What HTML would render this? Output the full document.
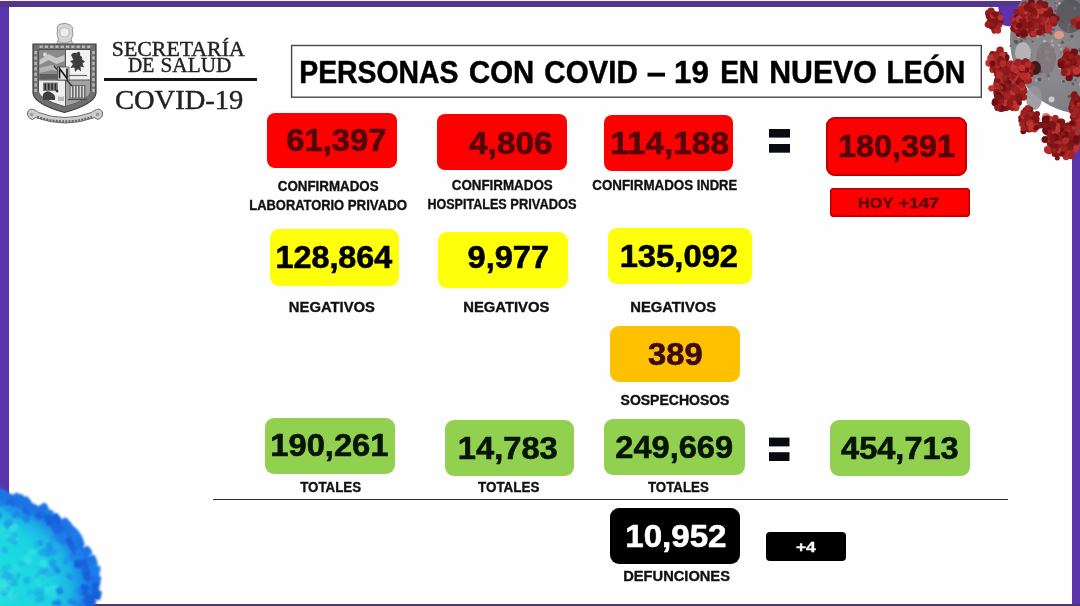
<!DOCTYPE html>
<html><head><meta charset="utf-8"><title>COVID-19 Nuevo León</title>
<style>
html,body{margin:0;padding:0;}
body{width:1080px;height:606px;overflow:hidden;background:#fff;font-family:"Liberation Sans",sans-serif;position:relative;}
#frame{position:absolute;left:0;top:0;width:1080px;height:606px;background:#fffefe;}
.edge{position:absolute;}
#e-top{left:0;top:1px;width:1080px;height:5.5px;background:#51368a;}
#e-left{left:0;top:1px;width:9px;height:605px;background:#5a34aa;}
#e-right{left:1072px;top:1px;width:8px;height:605px;background:#5a34aa;}
#e-bot{left:0;top:603.6px;width:1080px;height:2.4px;background:#493a6c;}
#e-top0{left:0;top:0;width:1080px;height:1.3px;background:#fdeefa;}
.bx{position:absolute;}
#titlebox{position:absolute;left:291px;top:45.5px;width:688px;height:49.5px;border:1.3px solid #4a4a4a;background:#fff;}
#hline{position:absolute;left:213px;top:498.9px;width:795px;height:1.6px;background:#303030;}
#logoline{position:absolute;left:104.3px;top:77.6px;width:152.5px;height:3.6px;background:#151515;}
svg{position:absolute;left:0;top:0;}
</style></head><body>
<div id="frame"></div>
<div class="edge" id="e-left"></div>
<div class="edge" id="e-right"></div>
<div class="edge" id="e-top"></div>
<div class="edge" id="e-top0"></div>
<div class="edge" id="e-bot"></div>
<div class="bx" style="left:267px;top:113px;width:130px;height:55px;background:#fe0000;border-radius:8px;"></div>
<div class="bx" style="left:436.5px;top:114px;width:130.0px;height:56px;background:#fe0000;border-radius:8px;"></div>
<div class="bx" style="left:604px;top:114.5px;width:129px;height:56.5px;background:#fe0000;border-radius:8px;"></div>
<div class="bx" style="left:826px;top:116.5px;width:141px;height:59.5px;background:#fe0000;border-radius:9px;box-shadow:inset 0 0 0 1.7px #b80000;"></div>
<div class="bx" style="left:830px;top:188px;width:140px;height:29px;background:#fe0000;border-radius:4px;box-shadow:inset 0 0 0 1.4px #b40000;"></div>
<div class="bx" style="left:270.3px;top:229px;width:129.0px;height:57px;background:#ffff0a;border-radius:9px;"></div>
<div class="bx" style="left:438px;top:232px;width:130px;height:56px;background:#ffff0a;border-radius:9px;"></div>
<div class="bx" style="left:608px;top:228px;width:144px;height:56px;background:#ffff0a;border-radius:9px;"></div>
<div class="bx" style="left:610px;top:326px;width:130px;height:55.5px;background:#ffc000;border-radius:9px;"></div>
<div class="bx" style="left:265px;top:417.5px;width:130px;height:56.5px;background:#92d050;border-radius:9px;"></div>
<div class="bx" style="left:444.5px;top:420px;width:129.5px;height:56px;background:#92d050;border-radius:9px;"></div>
<div class="bx" style="left:604px;top:419px;width:141px;height:56px;background:#92d050;border-radius:9px;"></div>
<div class="bx" style="left:830px;top:419.5px;width:140px;height:56.5px;background:#92d050;border-radius:9px;"></div>
<div class="bx" style="left:610px;top:507.5px;width:130px;height:56.5px;background:#000;border-radius:9px;"></div>
<div class="bx" style="left:766px;top:532px;width:80px;height:28.5px;background:#000;border-radius:4px;"></div>
<div id="hline"></div>
<div id="logoline"></div>
<svg width="1080" height="606" viewBox="0 0 1080 606">
<g id="logo">
<defs><filter id="lb" x="-5%" y="-5%" width="110%" height="110%"><feGaussianBlur stdDeviation="0.45"/></filter></defs>
<g filter="url(#lb)">
<path d="M57.5 30 Q56 24.5 61 24 Q65 22.5 69 24.5 Q73.5 26 72.5 31 Q74 36 71 39 L73 45 Q74 49 70 50 H59 Q55 49 56.5 45 L58.5 39 Q56 35 57.5 30Z" fill="#d6d6d6" stroke="#8f8f8f" stroke-width="0.9"/>
<path d="M60 29 q4.5 -3 9 0 v6 q-4.5 4 -9 0z" fill="#ededed" stroke="#a0a0a0" stroke-width="0.6"/>
<path d="M58 41 q6.5 4 13 0" stroke="#9a9a9a" stroke-width="0.8" fill="none"/>
<path d="M33 44 H96 V93 Q95 104 64.5 112.5 Q34 104 33 93 Z" fill="#6f6f6f" stroke="#3d3d3d" stroke-width="1.2"/>
<path d="M38.5 49.5 H90.5 V91 Q90 99 64.5 106.5 Q39 99 38.5 91 Z" fill="#dcdcdc" stroke="#444" stroke-width="0.9"/>
<rect x="39" y="50" width="26" height="30" fill="#8a8a8a"/>
<rect x="65.5" y="50" width="24.5" height="30" fill="#f2f2f2"/>
<path d="M39 80 H65.5 V106 Q39.5 99 39 91 Z" fill="#efefef"/>
<path d="M65.5 80 H90 V91 Q89.5 99 65.5 106 Z" fill="#a4a4a4"/>
<path d="M39.5 60 l9 -6 l8 4 l8 -3 v6 l-8 3 l-8 -4 l-9 5z" fill="#c9c9c9"/>
<path d="M39.5 68 l12 -3 l13 4 v4 l-13 -3 l-12 3z" fill="#b4b4b4"/>
<path d="M39.5 74 h25 v5 h-25z" fill="#5f5f5f"/>
<circle cx="45" cy="54.5" r="2" fill="#d9d9d9"/>
<path d="M71 55 q2 -3 5 -2 l3 -1.5 q2 1.5 1 4 q3 1.5 2 4 l3 2 l-2.5 2 l1.5 4 l-3.5 -1 l0.5 5 l-3 -2.5 l-3 3 l-0.5 -4.5 l-4 0.5 l2.5 -4 l-3 -3 l3.5 -1z" fill="#3c3c3c"/>
<path d="M69 75.5 h18" stroke="#666" stroke-width="1.2"/>
<rect x="43" y="82.5" width="15" height="8.5" fill="#7b7b7b"/>
<rect x="44.5" y="83.5" width="1.5" height="6.5" fill="#2c2c2c"/>
<rect x="47.9" y="83.5" width="1.5" height="6.5" fill="#2c2c2c"/>
<rect x="51.3" y="83.5" width="1.5" height="6.5" fill="#2c2c2c"/>
<rect x="54.7" y="83.5" width="1.5" height="6.5" fill="#2c2c2c"/>
<path d="M43 94 q4 -5 9 -1 q4 2 3 7 h-12z" fill="#3f3f3f"/>
<circle cx="57" cy="91" r="1.4" fill="#333"/>
<path d="M58 96 q3 2 6 0 v5 h-6z" fill="#b8b8b8"/>
<rect x="69.5" y="85" width="16" height="13.5" fill="#6c6c6c"/>
<rect x="70.7" y="86" width="1.3" height="11.5" fill="#dedede"/>
<rect x="73.7" y="86" width="1.3" height="11.5" fill="#dedede"/>
<rect x="76.7" y="86" width="1.3" height="11.5" fill="#dedede"/>
<rect x="79.7" y="86" width="1.3" height="11.5" fill="#dedede"/>
<rect x="82.7" y="86" width="1.3" height="11.5" fill="#dedede"/>
<path d="M68 99.5 h19" stroke="#4a4a4a" stroke-width="1.3"/>
<path d="M65.5 50 V106 M39 80 H90" stroke="#555" stroke-width="1" fill="none"/>
<path d="M54 66 L72 86" stroke="#333" stroke-width="1.3"/>
<rect x="57.5" y="67" width="11.5" height="13" fill="#e2e2e2" stroke="#444" stroke-width="0.7"/>
<path d="M59.5 78.5 V68.5 L67 78.5 V68.5" stroke="#1c1c1c" stroke-width="1.7" fill="none"/>
<rect x="39.5" y="45.6" width="3.2" height="2.3" fill="#bdbdbd"/>
<rect x="44.8" y="45.6" width="3.2" height="2.3" fill="#bdbdbd"/>
<rect x="50.1" y="45.6" width="3.2" height="2.3" fill="#bdbdbd"/>
<rect x="55.4" y="45.6" width="3.2" height="2.3" fill="#bdbdbd"/>
<rect x="60.7" y="45.6" width="3.2" height="2.3" fill="#bdbdbd"/>
<rect x="66.0" y="45.6" width="3.2" height="2.3" fill="#bdbdbd"/>
<rect x="71.3" y="45.6" width="3.2" height="2.3" fill="#bdbdbd"/>
<rect x="76.6" y="45.6" width="3.2" height="2.3" fill="#bdbdbd"/>
<rect x="81.9" y="45.6" width="3.2" height="2.3" fill="#bdbdbd"/>
<rect x="87.2" y="45.6" width="3.2" height="2.3" fill="#bdbdbd"/>
<rect x="34.3" y="51.0" width="2.6" height="3.2" fill="#b5b5b5"/>
<rect x="92.2" y="51.0" width="2.6" height="3.2" fill="#b5b5b5"/>
<rect x="34.3" y="56.4" width="2.6" height="3.2" fill="#b5b5b5"/>
<rect x="92.2" y="56.4" width="2.6" height="3.2" fill="#b5b5b5"/>
<rect x="34.3" y="61.8" width="2.6" height="3.2" fill="#b5b5b5"/>
<rect x="92.2" y="61.8" width="2.6" height="3.2" fill="#b5b5b5"/>
<rect x="34.3" y="67.2" width="2.6" height="3.2" fill="#b5b5b5"/>
<rect x="92.2" y="67.2" width="2.6" height="3.2" fill="#b5b5b5"/>
<rect x="34.3" y="72.6" width="2.6" height="3.2" fill="#b5b5b5"/>
<rect x="92.2" y="72.6" width="2.6" height="3.2" fill="#b5b5b5"/>
<rect x="34.3" y="78.0" width="2.6" height="3.2" fill="#b5b5b5"/>
<rect x="92.2" y="78.0" width="2.6" height="3.2" fill="#b5b5b5"/>
<rect x="34.3" y="83.4" width="2.6" height="3.2" fill="#b5b5b5"/>
<rect x="92.2" y="83.4" width="2.6" height="3.2" fill="#b5b5b5"/>
<rect x="34.3" y="88.8" width="2.6" height="3.2" fill="#b5b5b5"/>
<rect x="92.2" y="88.8" width="2.6" height="3.2" fill="#b5b5b5"/>
<path d="M27.5 113 q1 -5 6 -3.5 q3 1 5 3 q26 10 53 0 q2 -2 5 -3 q5 -1.5 6 3.5 q0.5 5 -5 6.5 l-3 -2 q-29 11 -59 0 l-3 2 q-5.5 -1.500 -5 -6.5z" fill="#cdcdcd" stroke="#6a6a6a" stroke-width="1"/>
<path d="M37 117 q27.500 9 55 0" stroke="#666" stroke-width="2.4" fill="none" stroke-dasharray="2 1.2"/>
<circle cx="31.500" cy="114.5" r="1.800" fill="#9a9a9a"/><circle cx="97.5" cy="114.5" r="1.800" fill="#9a9a9a"/>
</g>
</g>
<rect x="291.6" y="45.5" width="689.7" height="51.7" fill="#fff" stroke="#484848" stroke-width="1.4"/>
<rect x="647.5" y="72.7" width="17.5" height="3.9" fill="#000"/>
<g id="eq">
<rect x="769" y="129" width="21" height="8.599999999999994" fill="#0a0a12"/><rect x="769" y="144" width="21" height="8.699999999999989" fill="#0a0a12"/>
<rect x="769" y="437.6" width="20.5" height="8.799999999999955" fill="#0a0a12"/><rect x="769" y="452.2" width="20.5" height="8.800000000000011" fill="#0a0a12"/>
</g>
<g id="txt" style="filter:blur(0.3px)">
<text transform="translate(299.28,82.85) scale(0.9150,1)" font-family="Liberation Sans" font-weight="bold" font-size="31.00" fill="#000" stroke="#000" stroke-width="0.5" stroke-linejoin="round">PERSONAS</text>
<text transform="translate(469.03,82.85) scale(0.9456,1)" font-family="Liberation Sans" font-weight="bold" font-size="31.00" fill="#000" stroke="#000" stroke-width="0.5" stroke-linejoin="round">CON</text>
<text transform="translate(544.33,82.85) scale(0.9517,1)" font-family="Liberation Sans" font-weight="bold" font-size="31.00" fill="#000" stroke="#000" stroke-width="0.5" stroke-linejoin="round">COVID</text>
<text transform="translate(674.10,82.85) scale(1.0070,1)" font-family="Liberation Sans" font-weight="bold" font-size="31.00" fill="#000" stroke="#000" stroke-width="0.5" stroke-linejoin="round">19</text>
<text transform="translate(720.20,82.85) scale(0.9031,1)" font-family="Liberation Sans" font-weight="bold" font-size="31.00" fill="#000" stroke="#000" stroke-width="0.5" stroke-linejoin="round">EN</text>
<text transform="translate(769.16,82.85) scale(0.9771,1)" font-family="Liberation Sans" font-weight="bold" font-size="31.00" fill="#000" stroke="#000" stroke-width="0.5" stroke-linejoin="round">NUEVO</text>
<text transform="translate(886.47,82.85) scale(0.9167,1)" font-family="Liberation Sans" font-weight="bold" font-size="31.00" fill="#000" stroke="#000" stroke-width="0.5" stroke-linejoin="round">LEÓN</text>
<text transform="translate(286.28,151.20) scale(1.0670,1)" font-family="Liberation Sans" font-weight="bold" font-size="30.72" fill="#50060a" stroke="#50060a" stroke-width="0.6" stroke-linejoin="round">61,397</text>
<text transform="translate(469.30,153.70) scale(1.0826,1)" font-family="Liberation Sans" font-weight="bold" font-size="30.72" fill="#50060a" stroke="#50060a" stroke-width="0.6" stroke-linejoin="round">4,806</text>
<text transform="translate(610.21,153.70) scale(1.0866,1)" font-family="Liberation Sans" font-weight="bold" font-size="30.72" fill="#50060a" stroke="#50060a" stroke-width="0.6" stroke-linejoin="round">114,188</text>
<text transform="translate(838.08,156.70) scale(1.0530,1)" font-family="Liberation Sans" font-weight="bold" font-size="30.72" fill="#50060a" stroke="#50060a" stroke-width="0.6" stroke-linejoin="round">180,391</text>
<text transform="translate(857.98,208.20) scale(1.1685,1)" font-family="Liberation Sans" font-weight="bold" font-size="13.94" fill="#5a0a10" stroke="#5a0a10" stroke-width="0.4" stroke-linejoin="round">HOY</text>
<text transform="translate(898.64,208.20) scale(1.2865,1)" font-family="Liberation Sans" font-weight="bold" font-size="13.94" fill="#5a0a10" stroke="#5a0a10" stroke-width="0.4" stroke-linejoin="round">+147</text>
<text transform="translate(277.76,191.32) scale(0.9535,1)" font-family="Liberation Sans" font-weight="bold" font-size="14.01" fill="#111" stroke="#111" stroke-width="0.35" stroke-linejoin="round">CONFIRMADOS</text>
<text transform="translate(249.37,210.22) scale(0.9206,1)" font-family="Liberation Sans" font-weight="bold" font-size="14.01" fill="#111" stroke="#111" stroke-width="0.35" stroke-linejoin="round">LABORATORIO</text>
<text transform="translate(347.75,210.22) scale(0.9468,1)" font-family="Liberation Sans" font-weight="bold" font-size="14.01" fill="#111" stroke="#111" stroke-width="0.35" stroke-linejoin="round">PRIVADO</text>
<text transform="translate(451.76,190.12) scale(0.9545,1)" font-family="Liberation Sans" font-weight="bold" font-size="14.01" fill="#111" stroke="#111" stroke-width="0.35" stroke-linejoin="round">CONFIRMADOS</text>
<text transform="translate(427.39,208.82) scale(0.8971,1)" font-family="Liberation Sans" font-weight="bold" font-size="14.01" fill="#111" stroke="#111" stroke-width="0.35" stroke-linejoin="round">HOSPITALES</text>
<text transform="translate(510.37,208.82) scale(0.9177,1)" font-family="Liberation Sans" font-weight="bold" font-size="14.01" fill="#111" stroke="#111" stroke-width="0.35" stroke-linejoin="round">PRIVADOS</text>
<text transform="translate(592.26,190.12) scale(0.9535,1)" font-family="Liberation Sans" font-weight="bold" font-size="14.01" fill="#111" stroke="#111" stroke-width="0.35" stroke-linejoin="round">CONFIRMADOS</text>
<text transform="translate(696.76,190.12) scale(0.9270,1)" font-family="Liberation Sans" font-weight="bold" font-size="14.01" fill="#111" stroke="#111" stroke-width="0.35" stroke-linejoin="round">INDRE</text>
<text transform="translate(275.48,268.20) scale(1.0520,1)" font-family="Liberation Sans" font-weight="bold" font-size="30.72" fill="#000" stroke="#000" stroke-width="0.6" stroke-linejoin="round">128,864</text>
<text transform="translate(467.58,268.20) scale(1.0593,1)" font-family="Liberation Sans" font-weight="bold" font-size="30.72" fill="#000" stroke="#000" stroke-width="0.6" stroke-linejoin="round">9,977</text>
<text transform="translate(619.65,266.70) scale(1.0668,1)" font-family="Liberation Sans" font-weight="bold" font-size="30.72" fill="#000" stroke="#000" stroke-width="0.6" stroke-linejoin="round">135,092</text>
<text transform="translate(288.85,312.22) scale(1.0564,1)" font-family="Liberation Sans" font-weight="bold" font-size="14.01" fill="#111" stroke="#111" stroke-width="0.35" stroke-linejoin="round">NEGATIVOS</text>
<text transform="translate(463.25,312.22) scale(1.0589,1)" font-family="Liberation Sans" font-weight="bold" font-size="14.01" fill="#111" stroke="#111" stroke-width="0.35" stroke-linejoin="round">NEGATIVOS</text>
<text transform="translate(630.25,312.22) scale(1.0552,1)" font-family="Liberation Sans" font-weight="bold" font-size="14.01" fill="#111" stroke="#111" stroke-width="0.35" stroke-linejoin="round">NEGATIVOS</text>
<text transform="translate(648.09,365.40) scale(1.0658,1)" font-family="Liberation Sans" font-weight="bold" font-size="30.72" fill="#3a0c10" stroke="#3a0c10" stroke-width="0.6" stroke-linejoin="round">389</text>
<text transform="translate(620.56,404.72) scale(0.9996,1)" font-family="Liberation Sans" font-weight="bold" font-size="14.01" fill="#111" stroke="#111" stroke-width="0.35" stroke-linejoin="round">SOSPECHOSOS</text>
<text transform="translate(270.26,456.20) scale(1.0650,1)" font-family="Liberation Sans" font-weight="bold" font-size="30.72" fill="#071507" stroke="#071507" stroke-width="0.6" stroke-linejoin="round">190,261</text>
<text transform="translate(457.76,458.70) scale(1.0649,1)" font-family="Liberation Sans" font-weight="bold" font-size="30.72" fill="#071507" stroke="#071507" stroke-width="0.6" stroke-linejoin="round">14,783</text>
<text transform="translate(615.28,458.20) scale(1.0611,1)" font-family="Liberation Sans" font-weight="bold" font-size="30.72" fill="#071507" stroke="#071507" stroke-width="0.6" stroke-linejoin="round">249,669</text>
<text transform="translate(841.10,459.40) scale(1.0591,1)" font-family="Liberation Sans" font-weight="bold" font-size="30.72" fill="#071507" stroke="#071507" stroke-width="0.6" stroke-linejoin="round">454,713</text>
<text transform="translate(300.18,492.12) scale(0.9520,1)" font-family="Liberation Sans" font-weight="bold" font-size="14.01" fill="#111" stroke="#111" stroke-width="0.35" stroke-linejoin="round">TOTALES</text>
<text transform="translate(477.98,492.12) scale(0.9598,1)" font-family="Liberation Sans" font-weight="bold" font-size="14.01" fill="#111" stroke="#111" stroke-width="0.35" stroke-linejoin="round">TOTALES</text>
<text transform="translate(647.97,492.12) scale(0.9504,1)" font-family="Liberation Sans" font-weight="bold" font-size="14.01" fill="#111" stroke="#111" stroke-width="0.35" stroke-linejoin="round">TOTALES</text>
<text transform="translate(625.23,546.50) scale(1.0781,1)" font-family="Liberation Sans" font-weight="bold" font-size="30.72" fill="#fff" stroke="#fff" stroke-width="0.6" stroke-linejoin="round">10,952</text>
<text transform="translate(623.26,581.03) scale(1.0470,1)" font-family="Liberation Sans" font-weight="bold" font-size="14.01" fill="#111" stroke="#111" stroke-width="0.35" stroke-linejoin="round">DEFUNCIONES</text>
<text transform="translate(795.91,551.75) scale(1.2481,1)" font-family="Liberation Sans" font-weight="bold" font-size="13.94" fill="#fff" stroke="#fff" stroke-width="0.3" stroke-linejoin="round">+4</text>
<text transform="translate(111.83,55.50) scale(1.0696,1)" font-family="Liberation Serif" font-weight="normal" font-size="20.42" fill="#222" stroke="#222" stroke-width="0.4" stroke-linejoin="round">SECRETARÍA</text>
<text transform="translate(128.09,72.30) scale(0.9794,1)" font-family="Liberation Serif" font-weight="normal" font-size="20.11" fill="#222" stroke="#222" stroke-width="0.4" stroke-linejoin="round">DE</text>
<text transform="translate(160.57,72.30) scale(1.0554,1)" font-family="Liberation Serif" font-weight="normal" font-size="20.11" fill="#222" stroke="#222" stroke-width="0.4" stroke-linejoin="round">SALUD</text>
<text transform="translate(114.93,108.78) scale(1.0216,1)" font-family="Liberation Serif" font-weight="normal" font-size="27.96" fill="#222" stroke="#222" stroke-width="0.45" stroke-linejoin="round">COVID-19</text>
</g>
<g id="virus-red">
<defs><radialGradient id="gb" gradientUnits="userSpaceOnUse" cx="1050" cy="60" r="80"><stop offset="0" stop-color="#8f8f93"/><stop offset="0.6" stop-color="#808085"/><stop offset="1" stop-color="#66666c"/></radialGradient><filter id="vb" x="-5%" y="-5%" width="110%" height="110%"><feGaussianBlur stdDeviation="0.7"/></filter></defs>
<g filter="url(#vb)">
<path d="M998 6 L1024 6 L1022 20 Q1012 30 1001 24 Z" fill="#5b32b0"/>
<circle cx="1084" cy="40" r="74" fill="url(#gb)"/>
<circle cx="1071.1" cy="65.7" r="1.0" fill="#9c6f70"/>
<circle cx="1022.8" cy="4.9" r="0.9" fill="#a9a9ad"/>
<circle cx="1066.1" cy="47.9" r="1.5" fill="#5f5f66"/>
<circle cx="1068.0" cy="30.8" r="1.3" fill="#b8b2b4"/>
<circle cx="1055.0" cy="5.4" r="1.7" fill="#b8b2b4"/>
<circle cx="1030.5" cy="17.1" r="1.6" fill="#55555c"/>
<circle cx="1046.7" cy="58.2" r="1.9" fill="#b8b2b4"/>
<circle cx="1060.2" cy="68.2" r="1.7" fill="#a9a9ad"/>
<circle cx="1015.6" cy="29.1" r="1.4" fill="#9c6f70"/>
<circle cx="1068.5" cy="27.3" r="1.4" fill="#b8b2b4"/>
<circle cx="1069.4" cy="41.0" r="1.0" fill="#9c6f70"/>
<circle cx="1022.6" cy="16.5" r="1.2" fill="#6e6e75"/>
<circle cx="1040.2" cy="15.9" r="1.0" fill="#6e6e75"/>
<circle cx="1076.3" cy="101.3" r="1.0" fill="#5f5f66"/>
<circle cx="1074.1" cy="84.9" r="1.3" fill="#9c6f70"/>
<circle cx="1044.1" cy="6.6" r="1.7" fill="#a9a9ad"/>
<circle cx="1017.8" cy="18.7" r="1.4" fill="#6e6e75"/>
<circle cx="1024.9" cy="20.7" r="1.7" fill="#8a7a7e"/>
<circle cx="1058.0" cy="64.3" r="1.1" fill="#5f5f66"/>
<circle cx="1027.5" cy="45.4" r="1.2" fill="#8a7a7e"/>
<circle cx="1051.8" cy="13.4" r="1.7" fill="#a9a9ad"/>
<circle cx="1026.1" cy="34.3" r="1.7" fill="#9c6f70"/>
<circle cx="1017.5" cy="58.6" r="1.6" fill="#6e6e75"/>
<circle cx="1040.5" cy="23.0" r="1.0" fill="#55555c"/>
<circle cx="1071.7" cy="26.2" r="2.0" fill="#5f5f66"/>
<circle cx="1061.2" cy="48.9" r="1.0" fill="#b8b2b4"/>
<circle cx="1062.5" cy="21.3" r="2.0" fill="#8a7a7e"/>
<circle cx="1043.2" cy="9.5" r="1.8" fill="#5f5f66"/>
<circle cx="1062.4" cy="42.2" r="1.7" fill="#5f5f66"/>
<circle cx="1013.9" cy="31.9" r="1.7" fill="#8a7a7e"/>
<circle cx="1020.0" cy="26.7" r="1.6" fill="#8a7a7e"/>
<circle cx="1020.8" cy="42.9" r="1.8" fill="#5f5f66"/>
<circle cx="1051.9" cy="45.7" r="2.0" fill="#b8b2b4"/>
<circle cx="1016.3" cy="63.3" r="2.0" fill="#8a7a7e"/>
<circle cx="1061.1" cy="66.1" r="1.4" fill="#a9a9ad"/>
<circle cx="1036.3" cy="80.2" r="1.4" fill="#a9a9ad"/>
<circle cx="1025.4" cy="81.8" r="1.1" fill="#9c6f70"/>
<circle cx="1041.5" cy="12.7" r="1.1" fill="#9c6f70"/>
<circle cx="1059.9" cy="3.4" r="1.5" fill="#b8b2b4"/>
<circle cx="1080.5" cy="16.5" r="1.9" fill="#9c6f70"/>
<circle cx="1020.8" cy="67.9" r="1.9" fill="#6e6e75"/>
<circle cx="1019.3" cy="39.5" r="1.2" fill="#8a7a7e"/>
<circle cx="1060.6" cy="53.1" r="1.3" fill="#9c6f70"/>
<circle cx="1029.4" cy="54.7" r="1.4" fill="#b8b2b4"/>
<circle cx="1031.5" cy="29.4" r="1.9" fill="#5f5f66"/>
<circle cx="1019.2" cy="47.2" r="1.0" fill="#b8b2b4"/>
<circle cx="1017.6" cy="36.6" r="1.9" fill="#b8b2b4"/>
<circle cx="1017.1" cy="13.7" r="1.4" fill="#6e6e75"/>
<circle cx="1043.9" cy="63.2" r="1.0" fill="#8a7a7e"/>
<circle cx="1010.6" cy="45.9" r="1.1" fill="#6e6e75"/>
<circle cx="1044.5" cy="67.3" r="1.3" fill="#8a7a7e"/>
<circle cx="1037.7" cy="23.6" r="1.3" fill="#5f5f66"/>
<circle cx="1044.0" cy="35.6" r="1.0" fill="#5f5f66"/>
<circle cx="1074.3" cy="109.8" r="1.2" fill="#a9a9ad"/>
<circle cx="1077.2" cy="18.9" r="1.8" fill="#5f5f66"/>
<circle cx="1056.9" cy="18.1" r="1.8" fill="#8a7a7e"/>
<circle cx="1042.7" cy="52.3" r="1.4" fill="#b8b2b4"/>
<circle cx="1051.1" cy="33.5" r="1.5" fill="#55555c"/>
<circle cx="1053.4" cy="29.8" r="1.2" fill="#55555c"/>
<circle cx="1027.3" cy="59.6" r="1.4" fill="#9c6f70"/>
<circle cx="1016.4" cy="42.1" r="2.0" fill="#55555c"/>
<circle cx="1071.8" cy="72.1" r="1.3" fill="#a9a9ad"/>
<circle cx="1053.1" cy="4.5" r="2.0" fill="#8a7a7e"/>
<circle cx="1068.2" cy="47.3" r="1.8" fill="#9c6f70"/>
<circle cx="1076.7" cy="75.7" r="0.9" fill="#8a7a7e"/>
<circle cx="1077.9" cy="52.3" r="1.1" fill="#8a7a7e"/>
<circle cx="1063.5" cy="9.4" r="0.9" fill="#6e6e75"/>
<circle cx="1071.8" cy="48.9" r="1.2" fill="#5f5f66"/>
<circle cx="1069.2" cy="24.4" r="1.8" fill="#b8b2b4"/>
<circle cx="1044.6" cy="41.4" r="1.6" fill="#b8b2b4"/>
<circle cx="1016.4" cy="38.1" r="0.9" fill="#6e6e75"/>
<circle cx="1070.5" cy="23.1" r="1.0" fill="#5f5f66"/>
<circle cx="1068.6" cy="58.4" r="1.4" fill="#6e6e75"/>
<circle cx="1048.1" cy="32.8" r="0.9" fill="#8a7a7e"/>
<circle cx="1029.9" cy="39.0" r="1.5" fill="#9c6f70"/>
<circle cx="1018.1" cy="56.8" r="1.4" fill="#5f5f66"/>
<circle cx="1076.9" cy="100.2" r="1.1" fill="#9c6f70"/>
<circle cx="1021.8" cy="44.1" r="1.4" fill="#8a7a7e"/>
<circle cx="1059.1" cy="45.3" r="1.1" fill="#b8b2b4"/>
<circle cx="1047.6" cy="52.0" r="1.9" fill="#a9a9ad"/>
<circle cx="1080.7" cy="84.3" r="1.8" fill="#b8b2b4"/>
<circle cx="1014.4" cy="36.2" r="1.3" fill="#9c6f70"/>
<circle cx="1014.7" cy="40.9" r="0.9" fill="#55555c"/>
<circle cx="1045.3" cy="52.4" r="1.4" fill="#a9a9ad"/>
<circle cx="1065.7" cy="58.1" r="0.9" fill="#8a7a7e"/>
<circle cx="1072.8" cy="83.7" r="1.3" fill="#55555c"/>
<circle cx="1065.1" cy="18.6" r="1.4" fill="#8a7a7e"/>
<circle cx="1028.0" cy="80.7" r="1.5" fill="#b8b2b4"/>
<circle cx="1080.9" cy="23.8" r="1.4" fill="#9c6f70"/>
<circle cx="1063.3" cy="21.8" r="1.2" fill="#6e6e75"/>
<circle cx="1061.6" cy="73.6" r="1.7" fill="#9c6f70"/>
<circle cx="1057.0" cy="1.4" r="1.2" fill="#a9a9ad"/>
<circle cx="1040.5" cy="23.6" r="1.6" fill="#a9a9ad"/>
<circle cx="1043.2" cy="52.4" r="1.4" fill="#6e6e75"/>
<circle cx="1043.4" cy="64.8" r="1.1" fill="#b8b2b4"/>
<circle cx="1075.9" cy="103.7" r="1.2" fill="#55555c"/>
<circle cx="1025.3" cy="38.7" r="1.8" fill="#6e6e75"/>
<circle cx="1039.5" cy="79.4" r="1.9" fill="#55555c"/>
<circle cx="1028.1" cy="49.5" r="1.0" fill="#5f5f66"/>
<circle cx="1034.1" cy="31.2" r="1.2" fill="#55555c"/>
<circle cx="1023.5" cy="31.4" r="1.7" fill="#6e6e75"/>
<circle cx="1031.0" cy="54.6" r="0.9" fill="#5f5f66"/>
<circle cx="1035.8" cy="31.4" r="1.0" fill="#6e6e75"/>
<circle cx="1044.0" cy="17.1" r="1.8" fill="#a9a9ad"/>
<circle cx="1071.9" cy="36.3" r="1.7" fill="#55555c"/>
<circle cx="1080.1" cy="50.2" r="1.9" fill="#55555c"/>
<circle cx="1071.3" cy="23.2" r="1.6" fill="#a9a9ad"/>
<circle cx="1030.3" cy="69.3" r="0.9" fill="#a9a9ad"/>
<circle cx="1077.4" cy="109.5" r="1.9" fill="#5f5f66"/>
<circle cx="1052.0" cy="40.9" r="1.4" fill="#a9a9ad"/>
<circle cx="1044.7" cy="12.9" r="1.0" fill="#9c6f70"/>
<circle cx="1068.8" cy="68.0" r="1.7" fill="#b8b2b4"/>
<circle cx="1051.3" cy="71.3" r="1.4" fill="#8a7a7e"/>
<circle cx="1074.9" cy="8.5" r="1.9" fill="#b8b2b4"/>
<circle cx="1027.5" cy="75.4" r="1.3" fill="#6e6e75"/>
<circle cx="1048.2" cy="75.5" r="1.9" fill="#6e6e75"/>
<circle cx="1073.9" cy="111.7" r="0.9" fill="#b8b2b4"/>
<circle cx="1020.3" cy="53.9" r="1.2" fill="#6e6e75"/>
<circle cx="1037.0" cy="62.2" r="1.1" fill="#55555c"/>
<circle cx="1050.9" cy="13.6" r="1.4" fill="#8a7a7e"/>
<circle cx="1037.8" cy="36.5" r="1.2" fill="#a9a9ad"/>
<circle cx="1044.0" cy="26.3" r="1.9" fill="#55555c"/>
<circle cx="1021.7" cy="40.6" r="1.1" fill="#55555c"/>
<circle cx="1020.8" cy="24.4" r="1.0" fill="#6e6e75"/>
<circle cx="1042.7" cy="21.6" r="1.2" fill="#9c6f70"/>
<circle cx="1054.4" cy="51.9" r="1.1" fill="#a9a9ad"/>
<circle cx="1062.5" cy="81.3" r="1.5" fill="#a9a9ad"/>
<circle cx="1077.1" cy="64.6" r="1.6" fill="#a9a9ad"/>
<circle cx="1032.6" cy="41.4" r="1.0" fill="#55555c"/>
<circle cx="1040.6" cy="73.6" r="1.5" fill="#9c6f70"/>
<circle cx="1057.3" cy="1.7" r="1.4" fill="#8a7a7e"/>
<circle cx="1075.5" cy="80.1" r="1.2" fill="#5f5f66"/>
<circle cx="1043.6" cy="22.0" r="0.9" fill="#55555c"/>
<circle cx="1055.5" cy="3.5" r="1.1" fill="#55555c"/>
<circle cx="1024.5" cy="70.9" r="1.5" fill="#55555c"/>
<circle cx="1039.4" cy="73.8" r="1.7" fill="#8a7a7e"/>
<circle cx="1038.0" cy="3.0" r="1.9" fill="#5f5f66"/>
<circle cx="1041.0" cy="71.4" r="1.3" fill="#55555c"/>
<circle cx="1063.2" cy="81.3" r="1.5" fill="#55555c"/>
<circle cx="1055.4" cy="10.7" r="1.2" fill="#55555c"/>
<circle cx="1048.7" cy="78.9" r="0.9" fill="#a9a9ad"/>
<circle cx="1046.0" cy="4.8" r="1.4" fill="#a9a9ad"/>
<circle cx="1068.5" cy="51.2" r="1.4" fill="#8a7a7e"/>
<circle cx="1069.1" cy="39.0" r="1.0" fill="#9c6f70"/>
<circle cx="1080.1" cy="19.4" r="1.5" fill="#6e6e75"/>
<circle cx="1073.5" cy="106.0" r="1.2" fill="#a9a9ad"/>
<circle cx="1035.3" cy="8.3" r="1.3" fill="#a9a9ad"/>
<circle cx="1054.9" cy="6.5" r="1.4" fill="#6e6e75"/>
<circle cx="1023.1" cy="31.7" r="1.2" fill="#5f5f66"/>
<circle cx="1017.2" cy="24.8" r="1.8" fill="#9c6f70"/>
<circle cx="1077.2" cy="113.3" r="1.1" fill="#b8b2b4"/>
<circle cx="1073.7" cy="58.4" r="1.1" fill="#a9a9ad"/>
<circle cx="1032.3" cy="9.0" r="1.7" fill="#8a7a7e"/>
<circle cx="1069.1" cy="96.6" r="1.5" fill="#55555c"/>
<circle cx="1069.2" cy="59.1" r="1.5" fill="#8a7a7e"/>
<circle cx="1049.3" cy="61.1" r="1.1" fill="#a9a9ad"/>
<ellipse cx="1070" cy="16" rx="14" ry="17" fill="#505056" opacity="0.75"/>
<ellipse cx="1046" cy="58" rx="10" ry="16" fill="#7d7074" opacity="0.7"/>
<ellipse cx="1023" cy="53" rx="8" ry="11" fill="#b9b9be" opacity="0.9"/>
<ellipse cx="1034" cy="98" rx="8" ry="12" fill="#96969b" opacity="0.9"/>
<circle cx="1051.5" cy="99.5" r="3" fill="#c9c9d2"/>
<ellipse cx="1059" cy="35" rx="5" ry="4" fill="#e09a88"/>
<ellipse cx="1046" cy="116" rx="4" ry="3" fill="#d97f6a"/>
<ellipse cx="1077" cy="129" rx="4" ry="5" fill="#55555c"/>
<ellipse cx="1035" cy="68" rx="6" ry="7" fill="#3b1a1c"/>
<ellipse cx="994" cy="21" rx="7.0" ry="9.7" fill="#8a1a1d"/>
<circle cx="990.1" cy="15.7" r="2.4" fill="#b52a2c"/>
<circle cx="992.6" cy="13.9" r="2.3" fill="#7a1417"/>
<circle cx="998.9" cy="14.0" r="2.8" fill="#99201f"/>
<circle cx="995.9" cy="20.5" r="3.5" fill="#6d1114"/>
<circle cx="989.0" cy="16.3" r="3.2" fill="#861818"/>
<circle cx="994.1" cy="31.5" r="2.3" fill="#8e1b1e"/>
<circle cx="990.8" cy="24.0" r="2.3" fill="#a32226"/>
<circle cx="999.9" cy="21.6" r="3.7" fill="#7a1417"/>
<circle cx="989.1" cy="25.1" r="3.2" fill="#bd3633"/>
<circle cx="995.3" cy="16.8" r="2.7" fill="#99201f"/>
<circle cx="988.4" cy="13.2" r="3.4" fill="#861818"/>
<circle cx="993.9" cy="20.1" r="3.6" fill="#861818"/>
<circle cx="999.7" cy="25.3" r="2.5" fill="#a32226"/>
<circle cx="993.5" cy="29.8" r="2.4" fill="#99201f"/>
<circle cx="993.0" cy="15.5" r="3.1" fill="#bd3633"/>
<circle cx="991.0" cy="11.3" r="3.8" fill="#99201f"/>
<circle cx="989.1" cy="12.6" r="2.5" fill="#8e1b1e"/>
<circle cx="997.7" cy="30.2" r="3.5" fill="#b52a2c"/>
<circle cx="1000.5" cy="17.8" r="2.7" fill="#bd3633"/>
<circle cx="992.1" cy="25.7" r="3.7" fill="#861818"/>
<circle cx="988.3" cy="22.4" r="2.2" fill="#8e1b1e"/>
<circle cx="987.7" cy="24.6" r="3.1" fill="#99201f"/>
<circle cx="995.2" cy="14.3" r="3.1" fill="#7a1417"/>
<circle cx="994.8" cy="22.4" r="2.4" fill="#7a1417"/>
<circle cx="992.3" cy="24.4" r="2.2" fill="#8e1b1e"/>
<circle cx="998.1" cy="27.7" r="2.3" fill="#a32226"/>
<ellipse cx="1020" cy="28" rx="7.9" ry="7.0" fill="#8a1a1d"/>
<circle cx="1019.8" cy="26.0" r="3.1" fill="#6d1114"/>
<circle cx="1022.8" cy="35.4" r="3.1" fill="#a32226"/>
<circle cx="1025.7" cy="23.2" r="3.3" fill="#bd3633"/>
<circle cx="1023.2" cy="30.3" r="2.4" fill="#8e1b1e"/>
<circle cx="1028.2" cy="25.6" r="3.4" fill="#a32226"/>
<circle cx="1023.2" cy="22.3" r="2.7" fill="#a32226"/>
<circle cx="1025.4" cy="33.3" r="3.2" fill="#99201f"/>
<circle cx="1017.5" cy="32.7" r="2.2" fill="#99201f"/>
<circle cx="1021.8" cy="27.3" r="3.4" fill="#6d1114"/>
<circle cx="1020.8" cy="21.8" r="3.0" fill="#99201f"/>
<circle cx="1018.8" cy="27.0" r="2.9" fill="#bd3633"/>
<circle cx="1017.2" cy="27.7" r="3.0" fill="#8e1b1e"/>
<circle cx="1015.9" cy="27.1" r="3.6" fill="#a32226"/>
<circle cx="1015.7" cy="26.1" r="2.9" fill="#b52a2c"/>
<circle cx="1018.1" cy="34.7" r="2.3" fill="#6d1114"/>
<circle cx="1013.7" cy="28.3" r="3.5" fill="#7a1417"/>
<circle cx="1026.8" cy="26.7" r="3.7" fill="#99201f"/>
<circle cx="1016.8" cy="26.5" r="3.5" fill="#b52a2c"/>
<ellipse cx="1035" cy="19" rx="19.4" ry="15.0" fill="#8a1a1d"/>
<circle cx="1027.7" cy="19.1" r="3.2" fill="#a32226"/>
<circle cx="1013.1" cy="20.0" r="3.1" fill="#a32226"/>
<circle cx="1025.9" cy="11.7" r="2.8" fill="#bd3633"/>
<circle cx="1049.8" cy="9.8" r="2.9" fill="#8e1b1e"/>
<circle cx="1026.6" cy="25.7" r="2.9" fill="#7a1417"/>
<circle cx="1020.0" cy="30.0" r="2.6" fill="#861818"/>
<circle cx="1046.8" cy="28.4" r="3.3" fill="#8e1b1e"/>
<circle cx="1027.7" cy="26.9" r="2.4" fill="#861818"/>
<circle cx="1025.1" cy="6.5" r="2.5" fill="#861818"/>
<circle cx="1030.8" cy="11.0" r="2.6" fill="#6d1114"/>
<circle cx="1014.9" cy="22.8" r="2.6" fill="#b52a2c"/>
<circle cx="1032.9" cy="33.7" r="3.5" fill="#7a1417"/>
<circle cx="1031.4" cy="2.5" r="3.4" fill="#6d1114"/>
<circle cx="1041.7" cy="27.3" r="2.5" fill="#a32226"/>
<circle cx="1044.1" cy="30.9" r="2.5" fill="#7a1417"/>
<circle cx="1054.5" cy="17.5" r="3.4" fill="#bd3633"/>
<circle cx="1033.9" cy="24.6" r="3.7" fill="#99201f"/>
<circle cx="1038.7" cy="29.2" r="2.3" fill="#bd3633"/>
<circle cx="1043.9" cy="10.1" r="2.6" fill="#99201f"/>
<circle cx="1026.9" cy="20.5" r="3.2" fill="#bd3633"/>
<circle cx="1045.8" cy="19.3" r="3.6" fill="#bd3633"/>
<circle cx="1045.2" cy="7.6" r="3.2" fill="#b52a2c"/>
<circle cx="1027.5" cy="6.7" r="2.9" fill="#6d1114"/>
<circle cx="1033.9" cy="33.2" r="3.6" fill="#b52a2c"/>
<circle cx="1038.8" cy="4.9" r="3.2" fill="#99201f"/>
<circle cx="1043.9" cy="9.4" r="2.2" fill="#bd3633"/>
<circle cx="1017.2" cy="17.4" r="3.6" fill="#6d1114"/>
<circle cx="1037.4" cy="8.6" r="3.0" fill="#a32226"/>
<circle cx="1050.8" cy="22.0" r="2.5" fill="#b52a2c"/>
<circle cx="1028.1" cy="18.3" r="3.1" fill="#b52a2c"/>
<circle cx="1031.8" cy="7.1" r="3.2" fill="#6d1114"/>
<circle cx="1021.0" cy="17.5" r="3.7" fill="#b52a2c"/>
<circle cx="1044.4" cy="18.6" r="3.0" fill="#a32226"/>
<circle cx="1032.7" cy="5.8" r="3.2" fill="#99201f"/>
<circle cx="1032.9" cy="29.6" r="2.2" fill="#bd3633"/>
<circle cx="1050.0" cy="12.2" r="3.3" fill="#99201f"/>
<circle cx="1044.4" cy="24.9" r="2.8" fill="#b52a2c"/>
<circle cx="1056.6" cy="18.4" r="2.9" fill="#7a1417"/>
<circle cx="1048.3" cy="29.9" r="3.5" fill="#b52a2c"/>
<circle cx="1018.8" cy="21.5" r="2.6" fill="#7a1417"/>
<circle cx="1024.4" cy="29.8" r="3.5" fill="#bd3633"/>
<circle cx="1023.3" cy="20.8" r="3.1" fill="#7a1417"/>
<circle cx="1037.8" cy="7.6" r="3.5" fill="#b52a2c"/>
<circle cx="1033.5" cy="29.4" r="2.6" fill="#bd3633"/>
<circle cx="1028.4" cy="8.4" r="3.5" fill="#99201f"/>
<circle cx="1023.8" cy="29.7" r="2.7" fill="#861818"/>
<circle cx="1019.2" cy="24.9" r="3.3" fill="#6d1114"/>
<circle cx="1041.9" cy="26.7" r="2.8" fill="#a32226"/>
<circle cx="1044.8" cy="4.7" r="3.5" fill="#7a1417"/>
<circle cx="1022.3" cy="17.1" r="3.1" fill="#8e1b1e"/>
<circle cx="1036.5" cy="23.4" r="2.7" fill="#a32226"/>
<circle cx="1017.1" cy="11.6" r="2.5" fill="#861818"/>
<circle cx="1030.1" cy="24.5" r="3.6" fill="#7a1417"/>
<circle cx="1020.9" cy="10.0" r="3.8" fill="#a32226"/>
<circle cx="1024.8" cy="5.0" r="3.5" fill="#99201f"/>
<circle cx="1040.9" cy="32.4" r="3.0" fill="#861818"/>
<circle cx="1031.4" cy="13.9" r="2.4" fill="#bd3633"/>
<circle cx="1035.8" cy="25.3" r="3.0" fill="#8e1b1e"/>
<circle cx="1014.2" cy="20.6" r="3.3" fill="#b52a2c"/>
<circle cx="1018.8" cy="19.1" r="3.6" fill="#8e1b1e"/>
<circle cx="1041.7" cy="27.1" r="3.3" fill="#861818"/>
<circle cx="1024.8" cy="5.6" r="2.8" fill="#bd3633"/>
<circle cx="1053.1" cy="19.0" r="2.5" fill="#6d1114"/>
<circle cx="1032.6" cy="16.8" r="3.2" fill="#6d1114"/>
<circle cx="1037.4" cy="14.1" r="3.0" fill="#7a1417"/>
<circle cx="1053.2" cy="22.0" r="3.2" fill="#6d1114"/>
<circle cx="1049.8" cy="26.7" r="2.7" fill="#b52a2c"/>
<circle cx="1032.3" cy="28.7" r="2.6" fill="#8e1b1e"/>
<circle cx="1040.5" cy="10.8" r="3.5" fill="#bd3633"/>
<circle cx="1024.0" cy="33.6" r="3.6" fill="#6d1114"/>
<circle cx="1052.6" cy="16.8" r="3.5" fill="#6d1114"/>
<circle cx="1041.6" cy="32.4" r="2.4" fill="#a32226"/>
<circle cx="1035.9" cy="15.7" r="3.4" fill="#bd3633"/>
<circle cx="1030.3" cy="17.9" r="2.7" fill="#8e1b1e"/>
<circle cx="1054.1" cy="23.4" r="3.0" fill="#8e1b1e"/>
<circle cx="1040.1" cy="3.3" r="3.2" fill="#7a1417"/>
<circle cx="1022.2" cy="8.9" r="3.2" fill="#a32226"/>
<circle cx="1039.2" cy="32.5" r="2.9" fill="#7a1417"/>
<circle cx="1042.5" cy="23.3" r="2.3" fill="#a32226"/>
<circle cx="1050.3" cy="11.9" r="2.8" fill="#7a1417"/>
<circle cx="1038.8" cy="6.6" r="2.6" fill="#99201f"/>
<circle cx="1036.6" cy="21.9" r="2.2" fill="#8e1b1e"/>
<circle cx="1019.1" cy="19.2" r="3.5" fill="#bd3633"/>
<circle cx="1016.2" cy="11.6" r="2.9" fill="#8e1b1e"/>
<circle cx="1027.8" cy="7.1" r="3.8" fill="#7a1417"/>
<circle cx="1021.0" cy="20.7" r="2.4" fill="#861818"/>
<circle cx="1037.0" cy="25.4" r="2.2" fill="#8e1b1e"/>
<circle cx="1053.0" cy="19.8" r="3.8" fill="#a32226"/>
<circle cx="1036.5" cy="24.8" r="3.0" fill="#99201f"/>
<circle cx="1032.9" cy="10.8" r="3.4" fill="#7a1417"/>
<circle cx="1046.8" cy="14.2" r="3.4" fill="#7a1417"/>
<circle cx="1034.2" cy="14.1" r="3.2" fill="#861818"/>
<circle cx="1014.4" cy="23.0" r="2.6" fill="#8e1b1e"/>
<circle cx="1034.5" cy="17.2" r="2.2" fill="#a32226"/>
<circle cx="1025.6" cy="25.1" r="3.2" fill="#861818"/>
<ellipse cx="999" cy="62" rx="9.7" ry="11.4" fill="#8a1a1d"/>
<circle cx="994.2" cy="57.4" r="3.7" fill="#861818"/>
<circle cx="994.6" cy="63.0" r="3.7" fill="#a32226"/>
<circle cx="993.2" cy="69.9" r="3.2" fill="#bd3633"/>
<circle cx="989.4" cy="63.7" r="2.9" fill="#99201f"/>
<circle cx="1000.8" cy="52.4" r="2.7" fill="#8e1b1e"/>
<circle cx="992.6" cy="54.7" r="3.5" fill="#6d1114"/>
<circle cx="1005.4" cy="53.9" r="2.2" fill="#7a1417"/>
<circle cx="994.1" cy="57.7" r="2.9" fill="#b52a2c"/>
<circle cx="992.5" cy="69.5" r="3.2" fill="#b52a2c"/>
<circle cx="1001.1" cy="55.5" r="2.2" fill="#99201f"/>
<circle cx="998.5" cy="67.1" r="3.7" fill="#8e1b1e"/>
<circle cx="998.0" cy="66.7" r="3.6" fill="#7a1417"/>
<circle cx="997.5" cy="73.9" r="3.5" fill="#861818"/>
<circle cx="997.2" cy="65.1" r="3.1" fill="#bd3633"/>
<circle cx="1001.9" cy="72.7" r="3.7" fill="#b52a2c"/>
<circle cx="998.0" cy="64.9" r="2.8" fill="#b52a2c"/>
<circle cx="1006.5" cy="57.5" r="2.2" fill="#bd3633"/>
<circle cx="995.8" cy="63.0" r="3.5" fill="#a32226"/>
<circle cx="999.9" cy="71.8" r="3.6" fill="#6d1114"/>
<circle cx="990.6" cy="63.5" r="2.5" fill="#b52a2c"/>
<circle cx="1007.3" cy="68.4" r="2.7" fill="#6d1114"/>
<circle cx="992.5" cy="67.4" r="2.4" fill="#8e1b1e"/>
<circle cx="1005.8" cy="57.7" r="3.6" fill="#6d1114"/>
<circle cx="992.4" cy="53.5" r="2.4" fill="#8e1b1e"/>
<circle cx="994.5" cy="69.8" r="2.2" fill="#8e1b1e"/>
<circle cx="1001.9" cy="73.6" r="3.1" fill="#b52a2c"/>
<circle cx="998.3" cy="73.4" r="2.9" fill="#861818"/>
<circle cx="1000.1" cy="50.3" r="3.7" fill="#99201f"/>
<circle cx="1002.6" cy="55.7" r="3.8" fill="#bd3633"/>
<circle cx="1001.1" cy="63.5" r="3.1" fill="#861818"/>
<circle cx="988.9" cy="63.0" r="3.6" fill="#bd3633"/>
<circle cx="1007.2" cy="56.9" r="2.3" fill="#6d1114"/>
<circle cx="990.9" cy="57.9" r="3.7" fill="#bd3633"/>
<circle cx="1003.2" cy="72.9" r="2.8" fill="#b52a2c"/>
<circle cx="1004.2" cy="61.7" r="2.3" fill="#99201f"/>
<circle cx="1001.5" cy="60.9" r="3.1" fill="#8e1b1e"/>
<circle cx="1000.2" cy="59.6" r="3.5" fill="#861818"/>
<circle cx="1002.9" cy="63.7" r="3.4" fill="#b52a2c"/>
<circle cx="996.3" cy="55.6" r="3.1" fill="#a32226"/>
<circle cx="992.4" cy="63.4" r="2.8" fill="#6d1114"/>
<ellipse cx="1008" cy="88" rx="15.0" ry="22.0" fill="#8a1a1d"/>
<circle cx="1001.1" cy="89.2" r="2.6" fill="#7a1417"/>
<circle cx="1021.8" cy="75.9" r="2.9" fill="#b52a2c"/>
<circle cx="1010.0" cy="78.6" r="3.5" fill="#a32226"/>
<circle cx="1022.5" cy="78.6" r="3.6" fill="#7a1417"/>
<circle cx="1010.9" cy="63.9" r="3.7" fill="#bd3633"/>
<circle cx="1015.4" cy="71.4" r="2.9" fill="#6d1114"/>
<circle cx="1004.4" cy="98.9" r="2.4" fill="#6d1114"/>
<circle cx="1013.0" cy="97.2" r="2.3" fill="#861818"/>
<circle cx="1001.9" cy="84.9" r="3.6" fill="#99201f"/>
<circle cx="1000.6" cy="94.1" r="2.2" fill="#99201f"/>
<circle cx="1004.5" cy="96.8" r="3.0" fill="#6d1114"/>
<circle cx="996.6" cy="92.7" r="2.4" fill="#8e1b1e"/>
<circle cx="997.7" cy="71.7" r="3.7" fill="#861818"/>
<circle cx="1011.0" cy="80.6" r="3.4" fill="#6d1114"/>
<circle cx="1000.1" cy="93.3" r="2.6" fill="#b52a2c"/>
<circle cx="1015.5" cy="95.7" r="3.6" fill="#8e1b1e"/>
<circle cx="1016.3" cy="66.5" r="2.4" fill="#8e1b1e"/>
<circle cx="996.7" cy="94.3" r="3.0" fill="#861818"/>
<circle cx="1023.5" cy="88.3" r="3.0" fill="#7a1417"/>
<circle cx="1005.8" cy="91.9" r="2.9" fill="#99201f"/>
<circle cx="1002.3" cy="84.0" r="2.5" fill="#b52a2c"/>
<circle cx="1006.2" cy="77.2" r="2.3" fill="#a32226"/>
<circle cx="1019.2" cy="74.3" r="3.4" fill="#7a1417"/>
<circle cx="1011.6" cy="106.8" r="3.3" fill="#b52a2c"/>
<circle cx="1001.4" cy="82.4" r="2.3" fill="#bd3633"/>
<circle cx="1016.8" cy="67.9" r="3.0" fill="#6d1114"/>
<circle cx="1000.0" cy="107.7" r="3.6" fill="#861818"/>
<circle cx="1017.2" cy="96.6" r="3.4" fill="#7a1417"/>
<circle cx="1014.1" cy="78.7" r="2.5" fill="#6d1114"/>
<circle cx="1021.9" cy="92.8" r="3.1" fill="#8e1b1e"/>
<circle cx="997.8" cy="107.0" r="3.7" fill="#a32226"/>
<circle cx="1018.4" cy="102.5" r="3.5" fill="#6d1114"/>
<circle cx="1010.9" cy="65.1" r="3.1" fill="#8e1b1e"/>
<circle cx="1006.6" cy="95.9" r="3.4" fill="#861818"/>
<circle cx="995.7" cy="86.5" r="3.1" fill="#8e1b1e"/>
<circle cx="1008.2" cy="95.4" r="3.2" fill="#7a1417"/>
<circle cx="1014.8" cy="95.5" r="3.5" fill="#8e1b1e"/>
<circle cx="1024.2" cy="90.9" r="3.4" fill="#99201f"/>
<circle cx="1021.1" cy="90.1" r="3.1" fill="#b52a2c"/>
<circle cx="1006.4" cy="80.3" r="3.6" fill="#7a1417"/>
<circle cx="1013.7" cy="90.5" r="3.0" fill="#99201f"/>
<circle cx="1012.6" cy="93.6" r="3.6" fill="#b52a2c"/>
<circle cx="1012.2" cy="80.7" r="3.1" fill="#bd3633"/>
<circle cx="1015.9" cy="107.5" r="3.7" fill="#bd3633"/>
<circle cx="1003.5" cy="69.9" r="3.2" fill="#8e1b1e"/>
<circle cx="994.9" cy="102.8" r="3.4" fill="#6d1114"/>
<circle cx="995.4" cy="101.4" r="3.3" fill="#6d1114"/>
<circle cx="1014.2" cy="66.9" r="2.3" fill="#7a1417"/>
<circle cx="1023.9" cy="81.7" r="2.6" fill="#bd3633"/>
<circle cx="1007.1" cy="85.7" r="2.4" fill="#7a1417"/>
<circle cx="1018.1" cy="94.9" r="3.0" fill="#8e1b1e"/>
<circle cx="1009.7" cy="104.0" r="2.8" fill="#861818"/>
<circle cx="997.8" cy="71.3" r="3.6" fill="#8e1b1e"/>
<circle cx="1021.3" cy="92.3" r="2.6" fill="#99201f"/>
<circle cx="997.4" cy="71.8" r="2.3" fill="#a32226"/>
<circle cx="1008.0" cy="106.0" r="2.9" fill="#8e1b1e"/>
<circle cx="1005.8" cy="101.4" r="3.2" fill="#a32226"/>
<circle cx="1023.5" cy="97.1" r="3.7" fill="#99201f"/>
<circle cx="1019.3" cy="97.7" r="3.7" fill="#861818"/>
<circle cx="1012.4" cy="94.4" r="2.7" fill="#bd3633"/>
<circle cx="1000.1" cy="81.9" r="3.4" fill="#99201f"/>
<circle cx="1015.1" cy="71.5" r="3.1" fill="#bd3633"/>
<circle cx="1012.3" cy="108.1" r="2.9" fill="#99201f"/>
<circle cx="999.2" cy="76.9" r="2.7" fill="#b52a2c"/>
<circle cx="1004.3" cy="97.4" r="3.1" fill="#bd3633"/>
<circle cx="1018.1" cy="89.1" r="3.6" fill="#b52a2c"/>
<circle cx="1003.7" cy="100.8" r="2.6" fill="#b52a2c"/>
<circle cx="1003.8" cy="109.1" r="2.5" fill="#a32226"/>
<circle cx="1000.1" cy="78.9" r="3.3" fill="#bd3633"/>
<circle cx="1013.1" cy="75.2" r="3.4" fill="#b52a2c"/>
<circle cx="1022.0" cy="86.6" r="3.7" fill="#bd3633"/>
<circle cx="1002.8" cy="100.7" r="3.3" fill="#99201f"/>
<circle cx="1013.3" cy="71.8" r="3.4" fill="#861818"/>
<circle cx="1006.4" cy="107.7" r="3.2" fill="#7a1417"/>
<circle cx="1003.3" cy="92.2" r="2.9" fill="#a32226"/>
<circle cx="991.3" cy="88.3" r="3.1" fill="#bd3633"/>
<circle cx="1013.3" cy="77.3" r="3.2" fill="#a32226"/>
<circle cx="999.7" cy="99.5" r="2.9" fill="#6d1114"/>
<circle cx="1005.2" cy="103.1" r="3.1" fill="#bd3633"/>
<circle cx="1007.2" cy="86.4" r="3.4" fill="#861818"/>
<circle cx="1001.2" cy="97.3" r="3.1" fill="#7a1417"/>
<circle cx="998.4" cy="94.0" r="2.6" fill="#6d1114"/>
<circle cx="1001.0" cy="108.5" r="3.5" fill="#6d1114"/>
<circle cx="1011.1" cy="103.7" r="3.7" fill="#8e1b1e"/>
<circle cx="1016.5" cy="90.0" r="3.6" fill="#99201f"/>
<circle cx="1021.1" cy="77.4" r="3.1" fill="#bd3633"/>
<circle cx="995.8" cy="86.0" r="3.3" fill="#bd3633"/>
<circle cx="1004.7" cy="89.1" r="3.3" fill="#861818"/>
<circle cx="1021.2" cy="81.4" r="3.0" fill="#a32226"/>
<circle cx="997.9" cy="97.5" r="3.2" fill="#7a1417"/>
<circle cx="1020.2" cy="71.2" r="3.0" fill="#861818"/>
<circle cx="1009.8" cy="64.4" r="3.1" fill="#a32226"/>
<circle cx="1012.6" cy="100.4" r="3.8" fill="#99201f"/>
<circle cx="1002.4" cy="87.3" r="3.6" fill="#6d1114"/>
<circle cx="1015.3" cy="65.5" r="3.6" fill="#bd3633"/>
<circle cx="999.6" cy="74.7" r="3.5" fill="#b52a2c"/>
<circle cx="1000.6" cy="87.7" r="2.5" fill="#a32226"/>
<circle cx="997.8" cy="107.9" r="3.2" fill="#8e1b1e"/>
<circle cx="1007.4" cy="85.6" r="2.2" fill="#8e1b1e"/>
<circle cx="1017.3" cy="80.1" r="2.4" fill="#8e1b1e"/>
<circle cx="1004.3" cy="78.3" r="3.0" fill="#99201f"/>
<circle cx="1019.1" cy="70.9" r="3.0" fill="#7a1417"/>
<circle cx="998.3" cy="80.8" r="2.4" fill="#7a1417"/>
<circle cx="995.9" cy="85.9" r="2.2" fill="#a32226"/>
<circle cx="1013.9" cy="103.9" r="3.5" fill="#bd3633"/>
<circle cx="1009.5" cy="82.2" r="2.2" fill="#6d1114"/>
<circle cx="1013.1" cy="97.6" r="2.6" fill="#8e1b1e"/>
<circle cx="1007.4" cy="95.8" r="3.6" fill="#a32226"/>
<circle cx="1001.4" cy="101.6" r="2.8" fill="#8e1b1e"/>
<circle cx="1010.0" cy="103.5" r="3.4" fill="#8e1b1e"/>
<ellipse cx="1022" cy="72" rx="9.7" ry="12.3" fill="#8a1a1d"/>
<circle cx="1014.0" cy="76.1" r="2.6" fill="#8e1b1e"/>
<circle cx="1026.5" cy="81.0" r="2.5" fill="#8e1b1e"/>
<circle cx="1030.0" cy="64.5" r="2.7" fill="#99201f"/>
<circle cx="1029.5" cy="69.6" r="3.7" fill="#b52a2c"/>
<circle cx="1018.0" cy="61.7" r="3.1" fill="#bd3633"/>
<circle cx="1018.3" cy="84.2" r="3.0" fill="#b52a2c"/>
<circle cx="1025.9" cy="75.0" r="2.8" fill="#8e1b1e"/>
<circle cx="1027.8" cy="70.7" r="3.1" fill="#a32226"/>
<circle cx="1016.8" cy="83.2" r="2.7" fill="#a32226"/>
<circle cx="1028.9" cy="69.8" r="3.7" fill="#b52a2c"/>
<circle cx="1016.3" cy="78.2" r="2.8" fill="#bd3633"/>
<circle cx="1030.8" cy="74.5" r="2.7" fill="#7a1417"/>
<circle cx="1022.2" cy="77.0" r="2.5" fill="#7a1417"/>
<circle cx="1014.9" cy="68.8" r="3.5" fill="#b52a2c"/>
<circle cx="1025.5" cy="79.0" r="3.4" fill="#bd3633"/>
<circle cx="1016.2" cy="64.3" r="2.7" fill="#861818"/>
<circle cx="1016.8" cy="71.8" r="2.9" fill="#7a1417"/>
<circle cx="1032.3" cy="67.0" r="3.2" fill="#861818"/>
<circle cx="1016.3" cy="67.6" r="2.6" fill="#b52a2c"/>
<circle cx="1028.7" cy="80.6" r="3.3" fill="#a32226"/>
<circle cx="1016.5" cy="70.1" r="3.4" fill="#bd3633"/>
<circle cx="1031.2" cy="74.1" r="2.4" fill="#8e1b1e"/>
<circle cx="1019.5" cy="74.6" r="2.5" fill="#b52a2c"/>
<circle cx="1018.1" cy="82.3" r="2.4" fill="#6d1114"/>
<circle cx="1025.3" cy="60.5" r="2.5" fill="#99201f"/>
<circle cx="1027.0" cy="75.9" r="3.5" fill="#bd3633"/>
<circle cx="1020.6" cy="80.7" r="3.7" fill="#7a1417"/>
<circle cx="1026.3" cy="69.7" r="2.8" fill="#6d1114"/>
<circle cx="1023.4" cy="70.7" r="3.3" fill="#861818"/>
<circle cx="1022.1" cy="84.9" r="2.8" fill="#a32226"/>
<circle cx="1023.6" cy="76.3" r="3.7" fill="#b52a2c"/>
<circle cx="1021.5" cy="69.3" r="2.3" fill="#7a1417"/>
<circle cx="1013.3" cy="77.1" r="2.4" fill="#8e1b1e"/>
<circle cx="1013.7" cy="68.4" r="3.7" fill="#b52a2c"/>
<circle cx="1013.6" cy="66.9" r="2.6" fill="#bd3633"/>
<circle cx="1018.0" cy="62.7" r="3.7" fill="#a32226"/>
<circle cx="1026.9" cy="61.4" r="2.7" fill="#8e1b1e"/>
<circle cx="1028.0" cy="64.4" r="3.3" fill="#b52a2c"/>
<circle cx="1021.1" cy="69.6" r="2.7" fill="#6d1114"/>
<circle cx="1022.0" cy="67.9" r="3.3" fill="#bd3633"/>
<ellipse cx="1029" cy="121" rx="8.8" ry="11.4" fill="#8a1a1d"/>
<circle cx="1036.8" cy="120.9" r="2.6" fill="#a32226"/>
<circle cx="1023.3" cy="131.3" r="2.9" fill="#6d1114"/>
<circle cx="1025.9" cy="110.6" r="3.5" fill="#861818"/>
<circle cx="1020.8" cy="120.4" r="2.5" fill="#7a1417"/>
<circle cx="1024.7" cy="121.4" r="3.7" fill="#99201f"/>
<circle cx="1030.8" cy="125.7" r="3.4" fill="#b52a2c"/>
<circle cx="1024.2" cy="119.2" r="2.3" fill="#6d1114"/>
<circle cx="1027.3" cy="124.2" r="3.2" fill="#7a1417"/>
<circle cx="1034.5" cy="129.3" r="3.3" fill="#b52a2c"/>
<circle cx="1028.8" cy="120.0" r="3.3" fill="#7a1417"/>
<circle cx="1034.5" cy="118.0" r="2.7" fill="#7a1417"/>
<circle cx="1024.8" cy="117.7" r="3.2" fill="#a32226"/>
<circle cx="1020.7" cy="117.6" r="2.5" fill="#7a1417"/>
<circle cx="1023.5" cy="115.9" r="3.4" fill="#b52a2c"/>
<circle cx="1033.0" cy="125.6" r="2.8" fill="#b52a2c"/>
<circle cx="1038.1" cy="124.3" r="2.7" fill="#a32226"/>
<circle cx="1027.0" cy="112.7" r="2.4" fill="#6d1114"/>
<circle cx="1021.9" cy="124.3" r="2.7" fill="#a32226"/>
<circle cx="1035.6" cy="123.5" r="3.8" fill="#861818"/>
<circle cx="1036.3" cy="126.5" r="3.8" fill="#99201f"/>
<circle cx="1034.4" cy="126.7" r="2.9" fill="#b52a2c"/>
<circle cx="1030.2" cy="113.8" r="2.8" fill="#a32226"/>
<circle cx="1024.1" cy="112.9" r="3.7" fill="#99201f"/>
<circle cx="1027.4" cy="118.0" r="3.4" fill="#8e1b1e"/>
<circle cx="1030.4" cy="109.2" r="2.7" fill="#7a1417"/>
<circle cx="1036.0" cy="118.8" r="3.6" fill="#7a1417"/>
<circle cx="1035.8" cy="127.6" r="2.7" fill="#6d1114"/>
<circle cx="1023.2" cy="128.2" r="2.8" fill="#b52a2c"/>
<circle cx="1024.0" cy="128.1" r="2.8" fill="#99201f"/>
<circle cx="1029.1" cy="123.6" r="3.1" fill="#bd3633"/>
<circle cx="1037.0" cy="113.9" r="3.0" fill="#861818"/>
<circle cx="1027.8" cy="108.1" r="3.2" fill="#a32226"/>
<circle cx="1032.0" cy="125.8" r="2.4" fill="#bd3633"/>
<circle cx="1030.7" cy="122.4" r="2.9" fill="#b52a2c"/>
<circle cx="1030.2" cy="128.8" r="2.3" fill="#bd3633"/>
<circle cx="1030.7" cy="123.7" r="2.3" fill="#bd3633"/>
<ellipse cx="1063" cy="140" rx="16.7" ry="16.7" fill="#8a1a1d"/>
<circle cx="1066.7" cy="137.0" r="2.2" fill="#7a1417"/>
<circle cx="1069.3" cy="135.6" r="2.7" fill="#861818"/>
<circle cx="1068.2" cy="125.3" r="3.1" fill="#861818"/>
<circle cx="1072.3" cy="145.5" r="2.9" fill="#7a1417"/>
<circle cx="1081.4" cy="137.0" r="3.2" fill="#8e1b1e"/>
<circle cx="1061.1" cy="129.2" r="3.3" fill="#bd3633"/>
<circle cx="1075.6" cy="136.2" r="3.2" fill="#99201f"/>
<circle cx="1072.2" cy="129.6" r="3.2" fill="#b52a2c"/>
<circle cx="1065.8" cy="156.1" r="3.3" fill="#7a1417"/>
<circle cx="1056.8" cy="130.2" r="3.1" fill="#bd3633"/>
<circle cx="1057.1" cy="147.2" r="2.9" fill="#99201f"/>
<circle cx="1069.1" cy="145.3" r="3.6" fill="#a32226"/>
<circle cx="1066.1" cy="157.1" r="3.2" fill="#b52a2c"/>
<circle cx="1053.6" cy="138.2" r="3.0" fill="#861818"/>
<circle cx="1065.1" cy="154.2" r="2.4" fill="#a32226"/>
<circle cx="1072.3" cy="127.4" r="3.5" fill="#7a1417"/>
<circle cx="1072.2" cy="129.3" r="3.3" fill="#a32226"/>
<circle cx="1050.0" cy="126.7" r="3.0" fill="#861818"/>
<circle cx="1068.7" cy="129.6" r="2.5" fill="#b52a2c"/>
<circle cx="1047.6" cy="133.5" r="2.4" fill="#8e1b1e"/>
<circle cx="1059.6" cy="142.3" r="2.3" fill="#b52a2c"/>
<circle cx="1056.6" cy="141.7" r="2.4" fill="#a32226"/>
<circle cx="1050.2" cy="127.8" r="3.1" fill="#6d1114"/>
<circle cx="1071.1" cy="154.3" r="2.7" fill="#8e1b1e"/>
<circle cx="1066.0" cy="134.1" r="2.8" fill="#6d1114"/>
<circle cx="1062.3" cy="136.1" r="3.2" fill="#a32226"/>
<circle cx="1056.3" cy="148.6" r="3.2" fill="#8e1b1e"/>
<circle cx="1076.9" cy="132.9" r="2.6" fill="#b52a2c"/>
<circle cx="1062.0" cy="137.4" r="3.8" fill="#861818"/>
<circle cx="1065.1" cy="141.8" r="2.4" fill="#99201f"/>
<circle cx="1068.6" cy="153.0" r="2.7" fill="#bd3633"/>
<circle cx="1070.5" cy="127.5" r="2.6" fill="#99201f"/>
<circle cx="1065.1" cy="139.3" r="2.7" fill="#7a1417"/>
<circle cx="1049.8" cy="141.1" r="2.3" fill="#8e1b1e"/>
<circle cx="1076.4" cy="146.8" r="3.2" fill="#bd3633"/>
<circle cx="1073.3" cy="124.4" r="3.3" fill="#861818"/>
<circle cx="1049.1" cy="151.0" r="3.2" fill="#a32226"/>
<circle cx="1054.1" cy="150.6" r="2.7" fill="#7a1417"/>
<circle cx="1059.6" cy="137.9" r="2.5" fill="#6d1114"/>
<circle cx="1061.4" cy="129.2" r="2.9" fill="#6d1114"/>
<circle cx="1058.7" cy="150.1" r="3.0" fill="#b52a2c"/>
<circle cx="1075.8" cy="141.7" r="3.8" fill="#8e1b1e"/>
<circle cx="1052.0" cy="128.1" r="2.4" fill="#bd3633"/>
<circle cx="1061.0" cy="153.3" r="2.6" fill="#7a1417"/>
<circle cx="1066.5" cy="139.8" r="3.1" fill="#a32226"/>
<circle cx="1074.6" cy="128.0" r="3.2" fill="#a32226"/>
<circle cx="1056.4" cy="147.6" r="3.5" fill="#7a1417"/>
<circle cx="1058.6" cy="130.5" r="3.4" fill="#6d1114"/>
<circle cx="1047.9" cy="139.2" r="2.8" fill="#bd3633"/>
<circle cx="1054.9" cy="153.8" r="3.3" fill="#861818"/>
<circle cx="1045.0" cy="139.6" r="3.5" fill="#6d1114"/>
<circle cx="1068.0" cy="147.0" r="3.6" fill="#861818"/>
<circle cx="1053.1" cy="146.7" r="3.4" fill="#7a1417"/>
<circle cx="1056.8" cy="136.3" r="3.4" fill="#99201f"/>
<circle cx="1060.9" cy="126.0" r="3.7" fill="#6d1114"/>
<circle cx="1070.4" cy="143.7" r="3.7" fill="#7a1417"/>
<circle cx="1059.2" cy="150.6" r="2.9" fill="#bd3633"/>
<circle cx="1059.7" cy="122.1" r="3.5" fill="#6d1114"/>
<circle cx="1071.0" cy="134.1" r="2.6" fill="#8e1b1e"/>
<circle cx="1063.8" cy="125.0" r="2.6" fill="#8e1b1e"/>
<circle cx="1065.4" cy="151.8" r="2.5" fill="#99201f"/>
<circle cx="1073.0" cy="128.5" r="2.5" fill="#8e1b1e"/>
<circle cx="1077.3" cy="136.6" r="2.3" fill="#6d1114"/>
<circle cx="1062.7" cy="138.7" r="2.6" fill="#8e1b1e"/>
<circle cx="1051.4" cy="125.9" r="2.5" fill="#6d1114"/>
<circle cx="1065.1" cy="137.7" r="3.0" fill="#6d1114"/>
<circle cx="1071.1" cy="155.7" r="3.5" fill="#a32226"/>
<circle cx="1055.3" cy="132.2" r="3.0" fill="#bd3633"/>
<circle cx="1062.4" cy="152.9" r="2.2" fill="#6d1114"/>
<circle cx="1045.6" cy="132.6" r="2.3" fill="#6d1114"/>
<circle cx="1064.4" cy="142.2" r="2.5" fill="#a32226"/>
<circle cx="1055.8" cy="148.9" r="2.8" fill="#7a1417"/>
<circle cx="1054.9" cy="127.7" r="2.7" fill="#99201f"/>
<circle cx="1068.1" cy="127.9" r="2.3" fill="#99201f"/>
<circle cx="1054.8" cy="128.5" r="3.3" fill="#99201f"/>
<circle cx="1054.1" cy="150.6" r="2.6" fill="#99201f"/>
<circle cx="1076.1" cy="140.7" r="3.2" fill="#6d1114"/>
<circle cx="1071.8" cy="152.2" r="2.8" fill="#a32226"/>
<circle cx="1076.9" cy="134.2" r="2.4" fill="#b52a2c"/>
<circle cx="1055.4" cy="137.2" r="3.7" fill="#6d1114"/>
<circle cx="1061.6" cy="122.0" r="3.6" fill="#7a1417"/>
<circle cx="1051.9" cy="138.0" r="3.3" fill="#861818"/>
<circle cx="1076.3" cy="138.5" r="3.2" fill="#6d1114"/>
<circle cx="1072.6" cy="133.1" r="2.5" fill="#8e1b1e"/>
<circle cx="1075.7" cy="150.2" r="2.3" fill="#bd3633"/>
<circle cx="1057.8" cy="130.0" r="2.6" fill="#bd3633"/>
<circle cx="1047.6" cy="149.8" r="3.7" fill="#b52a2c"/>
<circle cx="1065.7" cy="140.5" r="3.3" fill="#b52a2c"/>
<circle cx="1064.0" cy="148.5" r="3.4" fill="#99201f"/>
<circle cx="1057.3" cy="158.1" r="2.5" fill="#7a1417"/>
<ellipse cx="1050" cy="124" rx="7.9" ry="7.0" fill="#8a1a1d"/>
<circle cx="1041.4" cy="125.1" r="3.4" fill="#7a1417"/>
<circle cx="1052.1" cy="120.2" r="2.7" fill="#861818"/>
<circle cx="1053.1" cy="121.1" r="2.7" fill="#861818"/>
<circle cx="1050.5" cy="125.8" r="3.5" fill="#6d1114"/>
<circle cx="1057.6" cy="126.0" r="2.9" fill="#bd3633"/>
<circle cx="1055.9" cy="118.0" r="2.7" fill="#8e1b1e"/>
<circle cx="1051.2" cy="121.1" r="3.7" fill="#7a1417"/>
<circle cx="1053.0" cy="122.4" r="3.4" fill="#a32226"/>
<circle cx="1050.1" cy="118.5" r="2.8" fill="#bd3633"/>
<circle cx="1045.4" cy="130.5" r="3.3" fill="#6d1114"/>
<circle cx="1051.6" cy="123.8" r="2.6" fill="#8e1b1e"/>
<circle cx="1056.2" cy="125.3" r="2.6" fill="#bd3633"/>
<circle cx="1047.6" cy="117.5" r="2.3" fill="#6d1114"/>
<circle cx="1052.7" cy="125.0" r="3.7" fill="#7a1417"/>
<circle cx="1049.5" cy="123.9" r="2.6" fill="#7a1417"/>
<circle cx="1045.5" cy="119.6" r="3.8" fill="#6d1114"/>
<circle cx="1054.7" cy="117.4" r="2.3" fill="#b52a2c"/>
<circle cx="1055.4" cy="117.7" r="2.6" fill="#a32226"/>
<ellipse cx="1070" cy="64" rx="9.7" ry="13.2" fill="#8a1a1d"/>
<circle cx="1069.3" cy="70.2" r="2.6" fill="#a32226"/>
<circle cx="1074.8" cy="62.6" r="2.3" fill="#6d1114"/>
<circle cx="1069.3" cy="72.5" r="2.3" fill="#861818"/>
<circle cx="1062.2" cy="61.0" r="3.3" fill="#99201f"/>
<circle cx="1065.0" cy="69.0" r="2.9" fill="#7a1417"/>
<circle cx="1064.8" cy="70.1" r="2.9" fill="#7a1417"/>
<circle cx="1077.0" cy="56.9" r="2.6" fill="#99201f"/>
<circle cx="1066.7" cy="52.0" r="3.8" fill="#b52a2c"/>
<circle cx="1068.3" cy="60.2" r="3.2" fill="#8e1b1e"/>
<circle cx="1072.1" cy="62.2" r="3.3" fill="#6d1114"/>
<circle cx="1067.1" cy="54.8" r="3.3" fill="#861818"/>
<circle cx="1070.3" cy="63.9" r="3.4" fill="#861818"/>
<circle cx="1061.6" cy="63.3" r="3.8" fill="#b52a2c"/>
<circle cx="1074.4" cy="52.1" r="3.6" fill="#6d1114"/>
<circle cx="1068.4" cy="54.9" r="3.0" fill="#6d1114"/>
<circle cx="1078.8" cy="69.9" r="3.3" fill="#99201f"/>
<circle cx="1069.2" cy="77.7" r="3.6" fill="#6d1114"/>
<circle cx="1062.5" cy="62.6" r="2.6" fill="#7a1417"/>
<circle cx="1078.8" cy="69.2" r="2.8" fill="#b52a2c"/>
<circle cx="1060.2" cy="61.7" r="2.6" fill="#7a1417"/>
<circle cx="1075.1" cy="74.0" r="2.5" fill="#8e1b1e"/>
<circle cx="1067.1" cy="72.1" r="3.6" fill="#bd3633"/>
<circle cx="1073.1" cy="68.1" r="2.6" fill="#a32226"/>
<circle cx="1064.1" cy="73.2" r="3.0" fill="#99201f"/>
<circle cx="1066.9" cy="65.3" r="2.8" fill="#861818"/>
<circle cx="1067.5" cy="54.5" r="3.0" fill="#7a1417"/>
<circle cx="1070.2" cy="58.2" r="3.3" fill="#6d1114"/>
<circle cx="1061.1" cy="64.9" r="3.2" fill="#6d1114"/>
<circle cx="1071.8" cy="56.8" r="3.1" fill="#8e1b1e"/>
<circle cx="1067.6" cy="62.5" r="2.5" fill="#99201f"/>
<circle cx="1074.8" cy="60.2" r="2.6" fill="#861818"/>
<circle cx="1077.4" cy="70.5" r="3.6" fill="#b52a2c"/>
<circle cx="1077.5" cy="74.6" r="2.7" fill="#6d1114"/>
<circle cx="1078.2" cy="57.9" r="2.8" fill="#8e1b1e"/>
<circle cx="1068.6" cy="56.1" r="2.9" fill="#99201f"/>
<circle cx="1065.9" cy="71.5" r="3.1" fill="#b52a2c"/>
<circle cx="1080.1" cy="62.1" r="3.1" fill="#a32226"/>
<circle cx="1066.8" cy="56.6" r="2.3" fill="#861818"/>
<circle cx="1064.2" cy="71.5" r="3.0" fill="#8e1b1e"/>
<circle cx="1076.4" cy="71.1" r="3.7" fill="#bd3633"/>
<ellipse cx="1076" cy="104" rx="6.2" ry="9.7" fill="#8a1a1d"/>
<circle cx="1071.9" cy="107.9" r="3.6" fill="#861818"/>
<circle cx="1073.9" cy="106.4" r="3.4" fill="#8e1b1e"/>
<circle cx="1073.1" cy="95.7" r="2.8" fill="#8e1b1e"/>
<circle cx="1079.4" cy="101.3" r="2.7" fill="#bd3633"/>
<circle cx="1076.3" cy="100.2" r="2.6" fill="#a32226"/>
<circle cx="1075.2" cy="103.4" r="3.0" fill="#b52a2c"/>
<circle cx="1074.5" cy="103.0" r="3.3" fill="#6d1114"/>
<circle cx="1074.4" cy="104.3" r="3.3" fill="#bd3633"/>
<circle cx="1077.5" cy="100.6" r="2.9" fill="#8e1b1e"/>
<circle cx="1077.9" cy="101.0" r="2.7" fill="#8e1b1e"/>
<circle cx="1078.0" cy="111.4" r="3.0" fill="#a32226"/>
<circle cx="1074.6" cy="109.1" r="3.6" fill="#bd3633"/>
<circle cx="1071.5" cy="103.5" r="2.3" fill="#99201f"/>
<circle cx="1076.0" cy="110.8" r="2.9" fill="#99201f"/>
<circle cx="1075.1" cy="107.8" r="2.5" fill="#6d1114"/>
<circle cx="1081.2" cy="100.3" r="3.3" fill="#7a1417"/>
<circle cx="1071.8" cy="111.4" r="2.5" fill="#8e1b1e"/>
<circle cx="1075.9" cy="103.0" r="2.3" fill="#6d1114"/>
<circle cx="1079.2" cy="105.1" r="2.9" fill="#b52a2c"/>
<circle cx="1074.5" cy="94.4" r="3.1" fill="#861818"/>
<ellipse cx="1077" cy="22" rx="3.5" ry="4.4" fill="#8a1a1d"/>
<circle cx="1074.2" cy="24.4" r="2.5" fill="#b52a2c"/>
<circle cx="1079.5" cy="23.2" r="3.2" fill="#8e1b1e"/>
<circle cx="1079.4" cy="25.6" r="3.5" fill="#861818"/>
<circle cx="1078.6" cy="26.3" r="3.1" fill="#7a1417"/>
<circle cx="1073.7" cy="22.0" r="3.3" fill="#99201f"/>
<circle cx="1077.9" cy="18.5" r="2.5" fill="#b52a2c"/>
<ellipse cx="1077" cy="118" rx="6.2" ry="10.6" fill="#8a1a1d"/>
<circle cx="1072.2" cy="117.2" r="2.5" fill="#a32226"/>
<circle cx="1081.3" cy="115.7" r="3.3" fill="#99201f"/>
<circle cx="1075.7" cy="110.3" r="2.9" fill="#8e1b1e"/>
<circle cx="1079.3" cy="116.0" r="2.5" fill="#861818"/>
<circle cx="1076.1" cy="123.6" r="3.1" fill="#6d1114"/>
<circle cx="1075.4" cy="108.2" r="2.7" fill="#99201f"/>
<circle cx="1074.1" cy="127.8" r="2.4" fill="#b52a2c"/>
<circle cx="1076.0" cy="119.4" r="2.8" fill="#99201f"/>
<circle cx="1077.9" cy="126.7" r="2.3" fill="#861818"/>
<circle cx="1078.8" cy="122.1" r="2.7" fill="#bd3633"/>
<circle cx="1081.8" cy="125.2" r="2.4" fill="#b52a2c"/>
<circle cx="1073.3" cy="116.9" r="2.8" fill="#861818"/>
<circle cx="1078.1" cy="124.0" r="2.7" fill="#a32226"/>
<circle cx="1078.4" cy="125.8" r="3.4" fill="#b52a2c"/>
<circle cx="1073.6" cy="114.9" r="3.1" fill="#a32226"/>
<circle cx="1081.0" cy="116.6" r="3.7" fill="#99201f"/>
<circle cx="1080.8" cy="120.1" r="2.9" fill="#b52a2c"/>
<circle cx="1075.0" cy="124.4" r="2.4" fill="#99201f"/>
<circle cx="1079.2" cy="108.5" r="2.9" fill="#a32226"/>
<circle cx="1078.3" cy="109.0" r="2.9" fill="#8e1b1e"/>
<circle cx="1072.0" cy="123.2" r="2.9" fill="#6d1114"/>
<circle cx="1076.6" cy="110.8" r="3.3" fill="#a32226"/>
</g>
</g>
<g id="virus-blue">
<defs><radialGradient id="bb" gradientUnits="userSpaceOnUse" cx="-62" cy="588" r="106" gradientTransform="translate(-62 588) scale(1.491 1) translate(62 -588)"><stop offset="0.3" stop-color="#22e2e0"/><stop offset="0.72" stop-color="#1bd2e2"/><stop offset="0.84" stop-color="#1ab4e6"/><stop offset="0.92" stop-color="#1b88e8"/><stop offset="1" stop-color="#1a68e0"/></radialGradient><filter id="bbl" x="-5%" y="-5%" width="110%" height="110%"><feGaussianBlur stdDeviation="0.8"/></filter></defs>
<g filter="url(#bbl)">
<ellipse cx="-62" cy="588" rx="158" ry="106" fill="url(#bb)"/>
<rect x="-7.6" y="487.7" width="12.4" height="7.4" rx="2.5" fill="#1c74e6" transform="rotate(11 -1.5 491.4)"/>
<rect x="-16.8" y="493.4" width="8.8" height="6.8" rx="2.5" fill="#1a66e0" transform="rotate(11 -12.4 496.9)"/>
<rect x="0.5" y="490.3" width="8.2" height="6.8" rx="2.5" fill="#1c74e6" transform="rotate(14 4.6 493.6)"/>
<rect x="-0.4" y="495.5" width="12.5" height="8.2" rx="2.5" fill="#1c74e6" transform="rotate(47 5.8 499.6)"/>
<rect x="11.7" y="495.0" width="10.4" height="8.4" rx="2.5" fill="#1c74e6" transform="rotate(40 16.9 499.2)"/>
<rect x="6.2" y="499.9" width="8.8" height="6.8" rx="2.5" fill="#1a66e0" transform="rotate(26 10.6 503.3)"/>
<rect x="13.4" y="493.7" width="10.8" height="6.4" rx="2.5" fill="#1c74e6" transform="rotate(17 18.8 496.9)"/>
<rect x="14.9" y="502.2" width="11.6" height="6.2" rx="2.5" fill="#1c74e6" transform="rotate(12 20.7 505.3)"/>
<rect x="21.8" y="497.5" width="9.1" height="8.3" rx="2.5" fill="#1c74e6" transform="rotate(50 26.4 501.6)"/>
<rect x="22.5" y="505.9" width="10.3" height="8.8" rx="2.5" fill="#1a66e0" transform="rotate(29 27.6 510.3)"/>
<rect x="39.7" y="503.3" width="8.2" height="8.4" rx="2.5" fill="#1c74e6" transform="rotate(53 43.7 507.5)"/>
<rect x="25.9" y="506.5" width="9.7" height="6.4" rx="2.5" fill="#1c74e6" transform="rotate(60 30.8 509.7)"/>
<rect x="45.4" y="509.6" width="8.3" height="6.0" rx="2.5" fill="#1d7eea" transform="rotate(22 49.6 512.6)"/>
<rect x="34.8" y="511.6" width="8.3" height="7.8" rx="2.5" fill="#1a66e0" transform="rotate(28 39.0 515.5)"/>
<rect x="51.6" y="515.6" width="11.9" height="6.3" rx="2.5" fill="#1860da" transform="rotate(53 57.6 518.7)"/>
<rect x="42.9" y="516.3" width="11.9" height="7.5" rx="2.5" fill="#1860da" transform="rotate(64 48.8 520.0)"/>
<rect x="60.3" y="519.5" width="11.7" height="8.5" rx="2.5" fill="#1c74e6" transform="rotate(50 66.1 523.7)"/>
<rect x="51.3" y="523.4" width="12.4" height="6.9" rx="2.5" fill="#1a66e0" transform="rotate(31 57.5 526.9)"/>
<rect x="64.7" y="524.9" width="11.8" height="8.5" rx="2.5" fill="#1c74e6" transform="rotate(41 70.6 529.2)"/>
<rect x="51.9" y="525.4" width="10.5" height="8.7" rx="2.5" fill="#1a66e0" transform="rotate(49 57.1 529.8)"/>
<rect x="70.3" y="530.6" width="11.4" height="8.8" rx="2.5" fill="#1d7eea" transform="rotate(56 76.0 535.1)"/>
<rect x="56.5" y="535.4" width="12.2" height="7.0" rx="2.5" fill="#1d7eea" transform="rotate(74 62.6 538.9)"/>
<rect x="70.8" y="537.3" width="8.1" height="6.3" rx="2.5" fill="#1d7eea" transform="rotate(59 74.8 540.4)"/>
<rect x="64.9" y="538.6" width="9.7" height="6.6" rx="2.5" fill="#1860da" transform="rotate(57 69.7 541.9)"/>
<rect x="74.6" y="537.8" width="9.7" height="9.0" rx="2.5" fill="#1c74e6" transform="rotate(74 79.4 542.3)"/>
<rect x="67.7" y="546.5" width="12.0" height="6.4" rx="2.5" fill="#1a66e0" transform="rotate(61 73.7 549.7)"/>
<rect x="83.0" y="547.6" width="9.7" height="6.5" rx="2.5" fill="#1c74e6" transform="rotate(56 87.8 550.8)"/>
<rect x="74.1" y="551.0" width="12.5" height="7.2" rx="2.5" fill="#1d7eea" transform="rotate(62 80.3 554.6)"/>
<rect x="86.8" y="556.5" width="11.0" height="8.6" rx="2.5" fill="#1c74e6" transform="rotate(70 92.4 560.8)"/>
<rect x="73.1" y="560.6" width="8.5" height="6.7" rx="2.5" fill="#1860da" transform="rotate(87 77.3 564.0)"/>
<rect x="88.1" y="565.3" width="11.7" height="8.3" rx="2.5" fill="#1d7eea" transform="rotate(62 93.9 569.5)"/>
<rect x="78.6" y="560.9" width="10.1" height="7.5" rx="2.5" fill="#1860da" transform="rotate(74 83.6 564.7)"/>
<rect x="90.4" y="567.0" width="11.3" height="7.9" rx="2.5" fill="#1d7eea" transform="rotate(103 96.1 570.9)"/>
<rect x="80.0" y="565.8" width="11.3" height="7.5" rx="2.5" fill="#1a66e0" transform="rotate(57 85.6 569.6)"/>
<rect x="91.6" y="577.0" width="10.8" height="7.3" rx="2.5" fill="#1c74e6" transform="rotate(98 97.0 580.7)"/>
<rect x="81.8" y="572.8" width="9.6" height="6.4" rx="2.5" fill="#1860da" transform="rotate(65 86.6 576.0)"/>
<rect x="91.6" y="583.2" width="8.2" height="7.2" rx="2.5" fill="#1860da" transform="rotate(96 95.8 586.8)"/>
<rect x="79.6" y="584.6" width="8.1" height="7.6" rx="2.5" fill="#1d7eea" transform="rotate(98 83.7 588.5)"/>
<rect x="91.9" y="590.2" width="9.9" height="8.9" rx="2.5" fill="#1860da" transform="rotate(103 96.8 594.7)"/>
<rect x="78.5" y="585.9" width="10.9" height="8.5" rx="2.5" fill="#1860da" transform="rotate(111 83.9 590.1)"/>
<rect x="87.7" y="599.0" width="8.3" height="6.9" rx="2.5" fill="#1c74e6" transform="rotate(107 91.8 602.4)"/>
<rect x="81.4" y="596.1" width="12.9" height="8.3" rx="2.5" fill="#1860da" transform="rotate(120 87.8 600.3)"/>
<rect x="84.8" y="601.8" width="12.7" height="6.6" rx="2.5" fill="#1860da" transform="rotate(121 91.1 605.1)"/>
<rect x="77.3" y="603.6" width="9.8" height="7.0" rx="2.5" fill="#1d7eea" transform="rotate(89 82.2 607.1)"/>
<rect x="11.4" y="511.4" width="8.5" height="6.2" rx="2.5" fill="#1a7ee6" opacity="0.8" transform="rotate(-41 15.6 514.5)"/>
<rect x="0.7" y="534.0" width="9.8" height="5.8" rx="2.5" fill="#30e0e0" opacity="0.6" transform="rotate(-16 5.6 536.9)"/>
<rect x="33.8" y="590.8" width="10.3" height="5.4" rx="2.5" fill="#1ca4e8" opacity="0.6" transform="rotate(-6 39.0 593.5)"/>
<rect x="13.9" y="572.2" width="7.3" height="5.7" rx="2.5" fill="#1ca4e8" opacity="0.6" transform="rotate(-52 17.6 575.1)"/>
<rect x="41.5" y="548.7" width="10.1" height="7.5" rx="2.5" fill="#1e96ea" opacity="0.8" transform="rotate(25 46.5 552.4)"/>
<rect x="2.0" y="589.2" width="10.8" height="6.9" rx="2.5" fill="#3ee8e4" opacity="0.6" transform="rotate(23 7.4 592.6)"/>
<rect x="22.9" y="577.1" width="8.0" height="6.5" rx="2.5" fill="#1ca4e8" opacity="0.6" transform="rotate(-20 26.9 580.4)"/>
<rect x="50.9" y="585.1" width="8.7" height="6.6" rx="2.5" fill="#3ee8e4" opacity="0.6" transform="rotate(20 55.2 588.3)"/>
<rect x="0.1" y="586.7" width="9.4" height="7.8" rx="2.5" fill="#1ca4e8" opacity="0.6" transform="rotate(-52 4.8 590.6)"/>
<rect x="3.0" y="520.0" width="9.9" height="7.5" rx="2.5" fill="#1e96ea" opacity="0.8" transform="rotate(-42 8.0 523.7)"/>
<rect x="50.9" y="563.0" width="6.6" height="5.8" rx="2.5" fill="#1e96ea" opacity="0.8" transform="rotate(-56 54.3 565.9)"/>
<rect x="67.3" y="599.5" width="10.4" height="5.4" rx="2.5" fill="#1a7ee6" opacity="0.8" transform="rotate(24 72.5 602.2)"/>
<rect x="38.9" y="567.8" width="9.6" height="7.3" rx="2.5" fill="#1ca4e8" opacity="0.6" transform="rotate(13 43.7 571.4)"/>
<rect x="28.5" y="549.4" width="7.5" height="6.1" rx="2.5" fill="#3ee8e4" opacity="0.6" transform="rotate(8 32.3 552.5)"/>
<rect x="-4.7" y="587.0" width="9.5" height="5.2" rx="2.5" fill="#1fb0e8" opacity="0.6" transform="rotate(41 0.1 589.6)"/>
<rect x="-2.7" y="569.1" width="8.5" height="7.9" rx="2.5" fill="#1ca4e8" opacity="0.6" transform="rotate(11 1.6 573.0)"/>
<rect x="20.0" y="555.4" width="7.1" height="6.9" rx="2.5" fill="#30e0e0" opacity="0.6" transform="rotate(-19 23.5 558.8)"/>
<rect x="8.8" y="535.4" width="8.8" height="7.5" rx="2.5" fill="#3ee8e4" opacity="0.6" transform="rotate(-26 13.2 539.1)"/>
<rect x="38.5" y="596.7" width="7.1" height="5.5" rx="2.5" fill="#1fb0e8" opacity="0.6" transform="rotate(37 42.1 599.4)"/>
<rect x="11.9" y="592.0" width="8.9" height="6.2" rx="2.5" fill="#1fb0e8" opacity="0.6" transform="rotate(1 16.4 595.1)"/>
<rect x="2.1" y="564.6" width="10.0" height="7.9" rx="2.5" fill="#1fb0e8" opacity="0.6" transform="rotate(-20 7.2 568.6)"/>
<rect x="-5.9" y="592.2" width="8.9" height="6.3" rx="2.5" fill="#30e0e0" opacity="0.6" transform="rotate(56 -1.5 595.4)"/>
<rect x="43.1" y="587.2" width="7.7" height="5.6" rx="2.5" fill="#3ee8e4" opacity="0.6" transform="rotate(-12 46.9 589.9)"/>
<rect x="31.5" y="572.1" width="9.9" height="7.4" rx="2.5" fill="#30e0e0" opacity="0.6" transform="rotate(29 36.5 575.8)"/>
<rect x="5.3" y="577.8" width="9.7" height="7.8" rx="2.5" fill="#1ca4e8" opacity="0.6" transform="rotate(50 10.2 581.7)"/>
<rect x="49.5" y="569.0" width="7.8" height="6.3" rx="2.5" fill="#1fb0e8" opacity="0.6" transform="rotate(40 53.4 572.1)"/>
<rect x="48.5" y="559.6" width="7.3" height="6.1" rx="2.5" fill="#1e96ea" opacity="0.8" transform="rotate(-40 52.2 562.6)"/>
<rect x="68.4" y="553.3" width="6.5" height="7.2" rx="2.5" fill="#1a7ee6" opacity="0.8" transform="rotate(23 71.7 557.0)"/>
<rect x="54.3" y="567.7" width="6.5" height="5.5" rx="2.5" fill="#1a7ee6" opacity="0.8" transform="rotate(33 57.6 570.4)"/>
<rect x="52.3" y="533.9" width="10.0" height="6.4" rx="2.5" fill="#1a7ee6" opacity="0.8" transform="rotate(39 57.3 537.1)"/>
<rect x="24.4" y="556.5" width="7.8" height="7.0" rx="2.5" fill="#3ee8e4" opacity="0.6" transform="rotate(53 28.3 560.0)"/>
<rect x="34.8" y="579.6" width="6.8" height="7.7" rx="2.5" fill="#30e0e0" opacity="0.6" transform="rotate(-8 38.2 583.4)"/>
<rect x="34.5" y="571.1" width="6.0" height="7.5" rx="2.5" fill="#1fb0e8" opacity="0.6" transform="rotate(34 37.6 574.8)"/>
<rect x="34.5" y="587.7" width="10.3" height="6.0" rx="2.5" fill="#1fb0e8" opacity="0.6" transform="rotate(7 39.6 590.7)"/>
<rect x="37.1" y="540.3" width="6.0" height="5.6" rx="2.5" fill="#1c8cea" opacity="0.8" transform="rotate(-17 40.1 543.1)"/>
<rect x="-3.6" y="586.0" width="10.7" height="6.3" rx="2.5" fill="#3ee8e4" opacity="0.6" transform="rotate(9 1.8 589.2)"/>
<rect x="47.5" y="591.2" width="9.8" height="6.7" rx="2.5" fill="#30e0e0" opacity="0.6" transform="rotate(26 52.4 594.5)"/>
<rect x="3.2" y="584.8" width="9.6" height="6.4" rx="2.5" fill="#3ee8e4" opacity="0.6" transform="rotate(46 8.0 588.0)"/>
<rect x="-5.4" y="569.4" width="9.0" height="5.2" rx="2.5" fill="#30e0e0" opacity="0.6" transform="rotate(-31 -0.9 572.0)"/>
<rect x="7.5" y="593.5" width="8.8" height="7.2" rx="2.5" fill="#30e0e0" opacity="0.6" transform="rotate(-33 11.9 597.1)"/>
<rect x="44.6" y="570.7" width="6.5" height="7.9" rx="2.5" fill="#3ee8e4" opacity="0.6" transform="rotate(36 47.8 574.7)"/>
<rect x="17.6" y="513.8" width="9.9" height="5.1" rx="2.5" fill="#1c8cea" opacity="0.8" transform="rotate(7 22.5 516.4)"/>
<rect x="18.2" y="561.0" width="6.8" height="5.1" rx="2.5" fill="#1fb0e8" opacity="0.6" transform="rotate(31 21.6 563.5)"/>
<rect x="-1.7" y="501.7" width="6.5" height="5.4" rx="2.5" fill="#1e96ea" opacity="0.8" transform="rotate(3 1.5 504.4)"/>
<rect x="10.8" y="565.9" width="10.6" height="5.0" rx="2.5" fill="#30e0e0" opacity="0.6" transform="rotate(42 16.1 568.5)"/>
<rect x="48.0" y="548.1" width="8.8" height="6.8" rx="2.5" fill="#1e96ea" opacity="0.8" transform="rotate(35 52.4 551.5)"/>
<rect x="37.8" y="549.0" width="8.3" height="7.0" rx="2.5" fill="#1ca4e8" opacity="0.6" transform="rotate(7 42.0 552.5)"/>
<rect x="46.2" y="542.2" width="6.6" height="7.0" rx="2.5" fill="#1c8cea" opacity="0.8" transform="rotate(-35 49.5 545.7)"/>
<rect x="34.7" y="596.8" width="9.4" height="5.3" rx="2.5" fill="#1ca4e8" opacity="0.6" transform="rotate(-31 39.3 599.4)"/>
<rect x="74.8" y="587.7" width="7.8" height="5.9" rx="2.5" fill="#1c8cea" opacity="0.8" transform="rotate(31 78.7 590.6)"/>
<rect x="55.2" y="599.2" width="6.4" height="5.1" rx="2.5" fill="#1c8cea" opacity="0.8" transform="rotate(22 58.4 601.8)"/>
<rect x="7.1" y="578.1" width="8.3" height="6.2" rx="2.5" fill="#30e0e0" opacity="0.6" transform="rotate(13 11.2 581.2)"/>
<rect x="61.6" y="557.8" width="9.8" height="5.2" rx="2.5" fill="#1e96ea" opacity="0.8" transform="rotate(-57 66.5 560.4)"/>
<rect x="-2.5" y="573.1" width="10.0" height="5.2" rx="2.5" fill="#30e0e0" opacity="0.6" transform="rotate(14 2.5 575.6)"/>
<rect x="-4.1" y="512.7" width="6.1" height="6.1" rx="2.5" fill="#1a7ee6" opacity="0.8" transform="rotate(-41 -1.0 515.8)"/>
<rect x="5.4" y="506.0" width="10.7" height="7.3" rx="2.5" fill="#1e96ea" opacity="0.8" transform="rotate(40 10.7 509.7)"/>
<rect x="51.5" y="600.9" width="10.0" height="5.0" rx="2.5" fill="#1a7ee6" opacity="0.8" transform="rotate(5 56.5 603.4)"/>
<rect x="7.3" y="537.8" width="10.6" height="6.0" rx="2.5" fill="#1ca4e8" opacity="0.6" transform="rotate(32 12.6 540.8)"/>
<rect x="65.2" y="574.1" width="8.7" height="5.3" rx="2.5" fill="#1c8cea" opacity="0.8" transform="rotate(39 69.6 576.8)"/>
<rect x="11.7" y="532.7" width="6.3" height="5.4" rx="2.5" fill="#1ca4e8" opacity="0.6" transform="rotate(-5 14.9 535.4)"/>
<rect x="6.1" y="570.1" width="10.7" height="6.6" rx="2.5" fill="#30e0e0" opacity="0.6" transform="rotate(33 11.4 573.4)"/>
<rect x="39.7" y="559.6" width="7.4" height="7.7" rx="2.5" fill="#3ee8e4" opacity="0.6" transform="rotate(-58 43.4 563.4)"/>
<rect x="9.0" y="524.2" width="9.1" height="6.8" rx="2.5" fill="#3ee8e4" opacity="0.6" transform="rotate(-40 13.5 527.6)"/>
<rect x="13.8" y="591.8" width="7.2" height="5.8" rx="2.5" fill="#30e0e0" opacity="0.6" transform="rotate(-57 17.4 594.7)"/>
<rect x="4.7" y="572.4" width="9.1" height="7.0" rx="2.5" fill="#1ca4e8" opacity="0.6" transform="rotate(29 9.2 575.9)"/>
<rect x="42.1" y="569.8" width="10.6" height="6.4" rx="2.5" fill="#1ca4e8" opacity="0.6" transform="rotate(48 47.4 572.9)"/>
<rect x="1.2" y="573.6" width="10.3" height="6.4" rx="2.5" fill="#1fb0e8" opacity="0.6" transform="rotate(-21 6.3 576.8)"/>
<rect x="-2.9" y="579.6" width="10.0" height="7.0" rx="2.5" fill="#3ee8e4" opacity="0.6" transform="rotate(-27 2.2 583.1)"/>
<rect x="2.2" y="588.1" width="9.3" height="5.5" rx="2.5" fill="#1ca4e8" opacity="0.6" transform="rotate(-43 6.9 590.9)"/>
<rect x="-3.0" y="500.9" width="7.3" height="5.3" rx="2.5" fill="#1a7ee6" opacity="0.8" transform="rotate(10 0.7 503.5)"/>
<rect x="22.8" y="515.1" width="7.8" height="7.2" rx="2.5" fill="#1a7ee6" opacity="0.8" transform="rotate(-43 26.8 518.7)"/>
<rect x="11.3" y="579.0" width="6.8" height="7.0" rx="2.5" fill="#1ca4e8" opacity="0.6" transform="rotate(45 14.7 582.4)"/>
<rect x="2.2" y="588.7" width="10.7" height="5.1" rx="2.5" fill="#30e0e0" opacity="0.6" transform="rotate(18 7.5 591.2)"/>
<rect x="55.9" y="587.1" width="7.2" height="7.7" rx="2.5" fill="#1a7ee6" opacity="0.8" transform="rotate(-28 59.5 590.9)"/>
<rect x="1.6" y="546.9" width="6.1" height="6.3" rx="2.5" fill="#1ca4e8" opacity="0.6" transform="rotate(-46 4.7 550.1)"/>
<rect x="31.8" y="541.5" width="8.0" height="6.5" rx="2.5" fill="#1fb0e8" opacity="0.6" transform="rotate(51 35.8 544.7)"/>
<rect x="26.8" y="589.7" width="6.6" height="5.2" rx="2.5" fill="#1fb0e8" opacity="0.6" transform="rotate(-17 30.1 592.3)"/>
<rect x="50.0" y="535.3" width="6.3" height="6.5" rx="2.5" fill="#1e96ea" opacity="0.8" transform="rotate(-2 53.1 538.5)"/>
<rect x="-1.1" y="525.5" width="6.6" height="7.8" rx="2.5" fill="#30e0e0" opacity="0.6" transform="rotate(3 2.2 529.4)"/>
</g>
</g>
</svg>
</body></html>
